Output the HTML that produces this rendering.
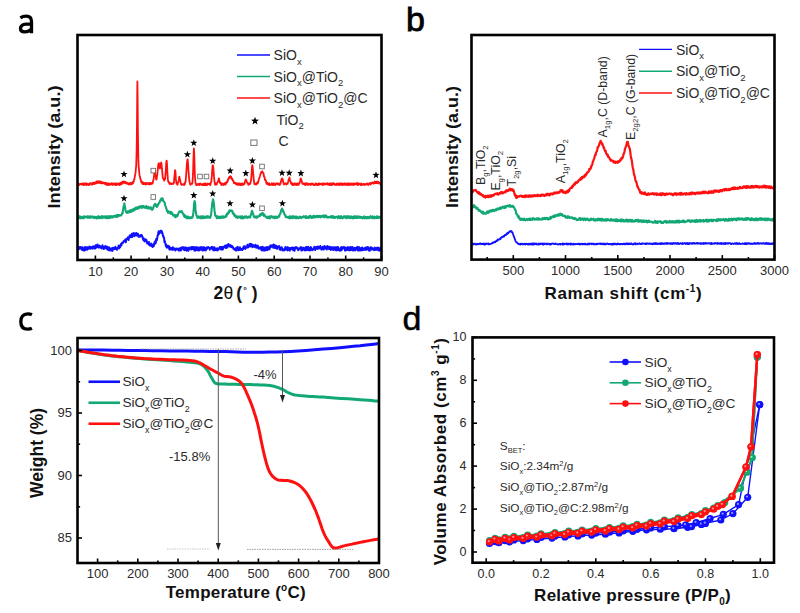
<!DOCTYPE html>
<html><head><meta charset="utf-8"><style>
html,body{margin:0;padding:0;background:#fff;width:800px;height:613px;overflow:hidden}
svg{display:block}
</style></head><body>
<svg width="800" height="613" viewBox="0 0 800 613">
<rect width="800" height="613" fill="#fff"/>
<defs>
<clipPath id="ca"><rect x="77.5" y="35" width="304.0" height="225"/></clipPath>
<clipPath id="cb"><rect x="471.5" y="35" width="303.0" height="224.60000000000002"/></clipPath>
<clipPath id="cc"><rect x="77.5" y="338" width="301.5" height="225"/></clipPath>
<clipPath id="cd"><rect x="472.5" y="337.4" width="301.5" height="225.30000000000007"/></clipPath>
</defs>
<g clip-path="url(#ca)">
<path d="M77.5 248.1 L77.9 247.5 L78.2 249.4 L78.6 247.2 L78.9 248.9 L79.3 248.3 L79.6 247.1 L80.0 248.8 L80.4 247.0 L80.7 248.5 L81.1 247.2 L81.4 247.2 L81.8 248.5 L82.1 250.0 L82.5 247.3 L82.9 247.7 L83.2 249.2 L83.6 250.5 L83.9 249.0 L84.3 248.3 L84.7 250.5 L85.0 247.0 L85.4 250.0 L85.7 247.9 L86.1 247.3 L86.4 247.2 L86.8 247.8 L87.2 249.7 L87.5 247.3 L87.9 248.8 L88.2 248.9 L88.6 247.9 L88.9 248.5 L89.3 246.6 L89.7 246.5 L90.0 247.0 L90.4 248.7 L90.7 247.7 L91.1 247.2 L91.4 248.1 L91.8 247.5 L92.2 246.8 L92.5 248.6 L92.9 248.1 L93.2 246.3 L93.6 247.5 L94.0 247.2 L94.3 248.4 L94.7 247.8 L95.0 246.0 L95.4 248.5 L95.7 245.2 L96.1 246.2 L96.5 247.5 L96.8 245.1 L97.2 246.3 L97.5 244.6 L97.9 247.0 L98.2 247.3 L98.6 246.6 L99.0 247.7 L99.3 245.6 L99.7 247.1 L100.0 246.8 L100.4 246.8 L100.7 246.3 L101.1 247.9 L101.5 248.4 L101.8 246.7 L102.2 247.5 L102.5 245.3 L102.9 247.8 L103.3 247.7 L103.6 249.1 L104.0 248.6 L104.3 246.7 L104.7 247.2 L105.0 248.4 L105.4 246.0 L105.8 247.8 L106.1 246.8 L106.5 246.7 L106.8 246.6 L107.2 249.4 L107.5 247.1 L107.9 247.6 L108.3 248.2 L108.6 250.2 L109.0 247.2 L109.3 248.7 L109.7 249.1 L110.0 250.5 L110.4 250.3 L110.8 250.5 L111.1 248.3 L111.5 248.8 L111.8 248.6 L112.2 250.6 L112.5 250.9 L112.9 247.8 L113.3 247.9 L113.6 248.0 L114.0 248.0 L114.3 248.9 L114.7 249.2 L115.1 247.9 L115.4 246.8 L115.8 248.2 L116.1 247.9 L116.5 248.5 L116.8 249.8 L117.2 248.7 L117.6 247.8 L117.9 248.0 L118.3 248.0 L118.6 245.4 L119.0 248.4 L119.3 247.7 L119.7 247.8 L120.1 247.2 L120.4 245.4 L120.8 245.2 L121.1 243.7 L121.5 245.5 L121.8 243.0 L122.2 242.7 L122.6 242.9 L122.9 242.4 L123.3 242.7 L123.6 241.3 L124.0 240.7 L124.4 240.9 L124.7 240.4 L125.1 241.0 L125.4 239.4 L125.8 242.3 L126.1 240.9 L126.5 238.8 L126.9 238.8 L127.2 238.8 L127.6 238.6 L127.9 237.3 L128.3 239.7 L128.6 239.9 L129.0 237.6 L129.4 237.4 L129.7 235.5 L130.1 235.3 L130.4 235.9 L130.8 235.4 L131.1 237.3 L131.5 234.5 L131.9 233.7 L132.2 237.1 L132.6 235.3 L132.9 233.6 L133.3 235.0 L133.7 232.9 L134.0 234.7 L134.4 236.3 L134.7 235.8 L135.1 235.1 L135.4 233.4 L135.8 234.1 L136.2 233.0 L136.5 235.4 L136.9 234.5 L137.2 235.5 L137.6 233.9 L137.9 233.6 L138.3 236.0 L138.7 236.8 L139.0 236.5 L139.4 236.5 L139.7 236.8 L140.1 236.7 L140.4 235.0 L140.8 236.3 L141.2 236.0 L141.5 235.0 L141.9 235.3 L142.2 236.6 L142.6 236.8 L142.9 238.7 L143.3 240.1 L143.7 238.5 L144.0 240.7 L144.4 241.2 L144.7 241.4 L145.1 239.5 L145.5 239.3 L145.8 239.6 L146.2 239.9 L146.5 240.2 L146.9 242.1 L147.2 243.5 L147.6 243.6 L148.0 242.5 L148.3 243.5 L148.7 244.4 L149.0 241.9 L149.4 244.4 L149.7 245.6 L150.1 245.3 L150.5 245.4 L150.8 244.6 L151.2 243.6 L151.5 246.1 L151.9 244.4 L152.2 246.2 L152.6 246.9 L153.0 244.6 L153.3 244.5 L153.7 246.3 L154.0 245.2 L154.4 242.6 L154.8 242.0 L155.1 241.4 L155.5 243.6 L155.8 242.4 L156.2 238.9 L156.5 240.5 L156.9 240.1 L157.3 237.8 L157.6 235.5 L158.0 235.2 L158.3 232.6 L158.7 231.3 L159.0 234.1 L159.4 232.2 L159.8 231.3 L160.1 232.6 L160.5 230.8 L160.8 232.4 L161.2 232.6 L161.5 230.8 L161.9 231.7 L162.3 232.8 L162.6 233.6 L163.0 236.0 L163.3 235.9 L163.7 237.7 L164.1 237.8 L164.4 241.9 L164.8 240.9 L165.1 242.4 L165.5 243.8 L165.8 245.9 L166.2 244.8 L166.6 247.4 L166.9 246.4 L167.3 247.0 L167.6 247.4 L168.0 245.8 L168.3 247.7 L168.7 246.9 L169.1 246.4 L169.4 249.5 L169.8 247.3 L170.1 248.5 L170.5 249.5 L170.8 248.9 L171.2 248.1 L171.6 248.8 L171.9 249.0 L172.3 249.9 L172.6 247.3 L173.0 249.0 L173.3 247.8 L173.7 247.9 L174.1 249.8 L174.4 248.8 L174.8 249.0 L175.1 249.8 L175.5 250.4 L175.9 248.6 L176.2 249.2 L176.6 248.8 L176.9 248.8 L177.3 249.5 L177.6 248.6 L178.0 248.9 L178.4 248.7 L178.7 250.5 L179.1 249.6 L179.4 250.2 L179.8 250.5 L180.1 247.9 L180.5 249.0 L180.9 250.5 L181.2 250.1 L181.6 247.4 L181.9 247.4 L182.3 248.6 L182.6 247.2 L183.0 247.8 L183.4 247.2 L183.7 249.4 L184.1 249.9 L184.4 250.3 L184.8 247.5 L185.2 249.6 L185.5 249.4 L185.9 247.4 L186.2 250.3 L186.6 250.6 L186.9 247.7 L187.3 250.5 L187.7 248.4 L188.0 248.8 L188.4 250.7 L188.7 250.1 L189.1 247.5 L189.4 248.5 L189.8 248.9 L190.2 248.2 L190.5 247.6 L190.9 248.1 L191.2 249.6 L191.6 247.0 L191.9 249.0 L192.3 248.6 L192.7 247.0 L193.0 248.2 L193.4 249.3 L193.7 248.8 L194.1 247.1 L194.5 250.6 L194.8 249.9 L195.2 250.6 L195.5 247.3 L195.9 247.9 L196.2 247.1 L196.6 249.9 L197.0 247.9 L197.3 247.4 L197.7 248.5 L198.0 250.4 L198.4 250.0 L198.7 247.9 L199.1 247.5 L199.5 250.4 L199.8 249.1 L200.2 249.6 L200.5 247.2 L200.9 247.1 L201.2 249.5 L201.6 248.5 L202.0 247.2 L202.3 250.5 L202.7 249.3 L203.0 249.9 L203.4 247.2 L203.7 250.2 L204.1 247.2 L204.5 250.2 L204.8 248.6 L205.2 248.2 L205.5 249.0 L205.9 250.4 L206.3 247.9 L206.6 247.4 L207.0 248.9 L207.3 247.8 L207.7 247.3 L208.0 247.5 L208.4 247.1 L208.8 247.7 L209.1 248.1 L209.5 248.1 L209.8 249.8 L210.2 248.0 L210.5 248.8 L210.9 247.6 L211.3 248.2 L211.6 247.0 L212.0 247.9 L212.3 247.0 L212.7 249.7 L213.0 249.0 L213.4 247.6 L213.8 248.7 L214.1 250.5 L214.5 247.3 L214.8 250.0 L215.2 248.5 L215.6 248.8 L215.9 250.1 L216.3 248.4 L216.6 248.8 L217.0 249.5 L217.3 250.6 L217.7 248.2 L218.1 250.1 L218.4 249.6 L218.8 249.3 L219.1 248.4 L219.5 248.2 L219.8 247.0 L220.2 247.3 L220.6 247.0 L220.9 249.5 L221.3 247.6 L221.6 247.2 L222.0 246.8 L222.3 249.6 L222.7 249.6 L223.1 248.6 L223.4 247.0 L223.8 246.7 L224.1 246.6 L224.5 247.1 L224.9 245.7 L225.2 246.5 L225.6 245.6 L225.9 248.1 L226.3 247.9 L226.6 246.2 L227.0 244.9 L227.4 247.6 L227.7 245.1 L228.1 245.3 L228.4 244.0 L228.8 245.6 L229.1 246.1 L229.5 246.3 L229.9 245.4 L230.2 246.8 L230.6 245.1 L230.9 246.3 L231.3 245.9 L231.6 247.3 L232.0 246.1 L232.4 246.2 L232.7 247.4 L233.1 247.3 L233.4 248.7 L233.8 248.6 L234.1 249.5 L234.5 249.2 L234.9 249.5 L235.2 250.1 L235.6 248.3 L235.9 248.1 L236.3 250.6 L236.7 247.4 L237.0 249.6 L237.4 249.3 L237.7 247.0 L238.1 250.0 L238.4 250.3 L238.8 249.2 L239.2 249.6 L239.5 249.9 L239.9 247.3 L240.2 248.8 L240.6 248.7 L240.9 249.9 L241.3 249.8 L241.7 249.8 L242.0 248.8 L242.4 250.0 L242.7 249.1 L243.1 249.1 L243.4 247.2 L243.8 246.4 L244.2 246.6 L244.5 247.4 L244.9 246.3 L245.2 248.9 L245.6 247.7 L246.0 247.8 L246.3 247.7 L246.7 247.7 L247.0 246.8 L247.4 244.8 L247.7 247.6 L248.1 247.3 L248.5 246.2 L248.8 246.1 L249.2 246.5 L249.5 244.1 L249.9 246.5 L250.2 244.5 L250.6 243.8 L251.0 244.5 L251.3 246.2 L251.7 244.2 L252.0 246.2 L252.4 247.2 L252.7 245.4 L253.1 245.0 L253.5 245.5 L253.8 246.4 L254.2 246.9 L254.5 246.4 L254.9 246.7 L255.3 244.7 L255.6 245.2 L256.0 245.7 L256.3 247.8 L256.7 246.3 L257.0 247.5 L257.4 245.5 L257.8 245.8 L258.1 246.8 L258.5 248.5 L258.8 248.7 L259.2 248.7 L259.5 247.4 L259.9 248.3 L260.3 248.2 L260.6 248.3 L261.0 247.0 L261.3 250.0 L261.7 247.4 L262.0 250.4 L262.4 250.3 L262.8 246.8 L263.1 248.5 L263.5 249.9 L263.8 250.5 L264.2 248.5 L264.5 247.8 L264.9 247.6 L265.3 250.4 L265.6 247.5 L266.0 248.9 L266.3 247.2 L266.7 248.6 L267.1 250.2 L267.4 247.0 L267.8 249.5 L268.1 248.2 L268.5 249.6 L268.8 248.8 L269.2 246.8 L269.6 249.2 L269.9 247.5 L270.3 245.6 L270.6 245.4 L271.0 247.1 L271.3 246.8 L271.7 246.1 L272.1 245.3 L272.4 246.0 L272.8 245.8 L273.1 247.7 L273.5 244.5 L273.8 247.3 L274.2 247.6 L274.6 244.9 L274.9 248.0 L275.3 247.2 L275.6 248.0 L276.0 245.8 L276.4 246.2 L276.7 246.4 L277.1 248.9 L277.4 247.5 L277.8 246.8 L278.1 247.2 L278.5 246.7 L278.9 246.0 L279.2 246.3 L279.6 249.3 L279.9 247.3 L280.3 249.9 L280.6 247.4 L281.0 247.5 L281.4 248.5 L281.7 247.3 L282.1 248.1 L282.4 250.4 L282.8 250.1 L283.1 249.9 L283.5 249.2 L283.9 250.3 L284.2 250.4 L284.6 248.9 L284.9 249.6 L285.3 247.1 L285.7 249.7 L286.0 248.6 L286.4 249.8 L286.7 249.3 L287.1 248.0 L287.4 247.1 L287.8 250.4 L288.2 247.4 L288.5 248.7 L288.9 248.2 L289.2 248.0 L289.6 249.7 L289.9 250.6 L290.3 247.9 L290.7 249.4 L291.0 248.0 L291.4 249.0 L291.7 248.4 L292.1 247.5 L292.4 247.5 L292.8 247.7 L293.2 250.3 L293.5 248.8 L293.9 247.7 L294.2 250.3 L294.6 250.7 L294.9 248.6 L295.3 247.4 L295.7 247.6 L296.0 247.2 L296.4 248.2 L296.7 247.2 L297.1 247.8 L297.5 247.9 L297.8 249.1 L298.2 250.3 L298.5 249.7 L298.9 248.5 L299.2 248.5 L299.6 248.9 L300.0 248.3 L300.3 248.2 L300.7 247.1 L301.0 247.9 L301.4 250.6 L301.7 247.4 L302.1 248.8 L302.5 249.3 L302.8 250.2 L303.2 247.7 L303.5 247.9 L303.9 247.8 L304.2 248.4 L304.6 248.6 L305.0 250.5 L305.3 250.1 L305.7 250.2 L306.0 246.9 L306.4 247.0 L306.8 249.5 L307.1 250.2 L307.5 248.6 L307.8 249.1 L308.2 246.8 L308.5 248.3 L308.9 250.3 L309.3 249.9 L309.6 250.0 L310.0 250.5 L310.3 247.7 L310.7 247.1 L311.0 247.3 L311.4 248.7 L311.8 249.3 L312.1 250.2 L312.5 249.4 L312.8 249.1 L313.2 249.5 L313.5 248.3 L313.9 248.6 L314.3 246.7 L314.6 249.5 L315.0 247.4 L315.3 249.9 L315.7 248.9 L316.1 247.5 L316.4 246.8 L316.8 247.3 L317.1 248.7 L317.5 248.9 L317.8 246.7 L318.2 246.5 L318.6 248.2 L318.9 248.4 L319.3 247.6 L319.6 246.9 L320.0 248.3 L320.3 246.1 L320.7 247.2 L321.1 247.7 L321.4 249.6 L321.8 248.4 L322.1 249.3 L322.5 247.7 L322.8 246.8 L323.2 246.9 L323.6 249.6 L323.9 248.6 L324.3 247.1 L324.6 246.0 L325.0 247.8 L325.3 248.5 L325.7 247.5 L326.1 246.9 L326.4 248.5 L326.8 249.5 L327.1 246.8 L327.5 246.1 L327.9 247.3 L328.2 247.6 L328.6 248.7 L328.9 246.8 L329.3 249.1 L329.6 249.0 L330.0 248.1 L330.4 247.0 L330.7 249.9 L331.1 247.4 L331.4 249.4 L331.8 247.2 L332.1 247.2 L332.5 249.3 L332.9 247.5 L333.2 250.1 L333.6 248.4 L333.9 247.2 L334.3 247.4 L334.6 248.1 L335.0 249.1 L335.4 250.2 L335.7 247.2 L336.1 248.1 L336.4 247.5 L336.8 250.4 L337.2 247.2 L337.5 246.9 L337.9 247.0 L338.2 248.2 L338.6 250.2 L338.9 250.1 L339.3 249.6 L339.7 250.6 L340.0 250.4 L340.4 248.1 L340.7 247.5 L341.1 250.4 L341.4 249.7 L341.8 247.0 L342.2 249.4 L342.5 248.3 L342.9 248.3 L343.2 248.1 L343.6 247.5 L343.9 246.9 L344.3 247.9 L344.7 248.2 L345.0 250.5 L345.4 247.4 L345.7 250.6 L346.1 247.7 L346.5 248.2 L346.8 250.0 L347.2 250.0 L347.5 248.5 L347.9 247.1 L348.2 248.7 L348.6 248.3 L349.0 250.4 L349.3 247.6 L349.7 248.3 L350.0 250.3 L350.4 247.0 L350.7 248.5 L351.1 250.0 L351.5 249.8 L351.8 247.1 L352.2 247.0 L352.5 247.1 L352.9 250.4 L353.2 247.9 L353.6 249.7 L354.0 250.3 L354.3 248.2 L354.7 247.9 L355.0 250.5 L355.4 249.2 L355.7 247.9 L356.1 249.6 L356.5 248.1 L356.8 247.9 L357.2 246.9 L357.5 249.8 L357.9 250.4 L358.3 249.3 L358.6 250.5 L359.0 247.0 L359.3 247.8 L359.7 248.7 L360.0 250.5 L360.4 250.5 L360.8 248.4 L361.1 247.9 L361.5 248.5 L361.8 248.8 L362.2 250.4 L362.5 247.6 L362.9 249.9 L363.3 249.7 L363.6 250.0 L364.0 249.8 L364.3 249.2 L364.7 248.1 L365.0 248.1 L365.4 248.3 L365.8 249.9 L366.1 247.2 L366.5 247.6 L366.8 249.8 L367.2 247.8 L367.6 247.1 L367.9 247.0 L368.3 249.0 L368.6 248.1 L369.0 250.6 L369.3 250.3 L369.7 250.7 L370.1 247.9 L370.4 247.2 L370.8 247.3 L371.1 248.8 L371.5 249.6 L371.8 248.6 L372.2 247.8 L372.6 248.5 L372.9 249.3 L373.3 249.5 L373.6 249.7 L374.0 250.1 L374.3 249.4 L374.7 247.4 L375.1 250.1 L375.4 248.0 L375.8 249.1 L376.1 248.3 L376.5 249.7 L376.9 247.7 L377.2 247.8 L377.6 247.8 L377.9 247.5 L378.3 250.3 L378.6 249.1 L379.0 248.1 L379.4 248.4 L379.7 250.7 L380.1 248.8 L380.4 247.8 L380.8 250.0 L381.1 249.4 L381.5 250.7" fill="none" stroke="#1010ff" stroke-width="2.0" stroke-linejoin="round" />
<path d="M77.5 216.4 L77.9 217.2 L78.2 218.0 L78.6 218.0 L78.9 218.2 L79.3 216.3 L79.6 216.8 L80.0 216.5 L80.4 216.6 L80.7 218.3 L81.1 217.5 L81.4 218.2 L81.8 217.0 L82.1 218.1 L82.5 217.2 L82.9 216.8 L83.2 217.9 L83.6 218.3 L83.9 216.4 L84.3 217.5 L84.7 217.6 L85.0 216.7 L85.4 217.0 L85.7 216.5 L86.1 216.6 L86.4 216.8 L86.8 217.5 L87.2 217.6 L87.5 216.6 L87.9 216.2 L88.2 216.9 L88.6 217.7 L88.9 216.6 L89.3 216.9 L89.7 216.6 L90.0 217.9 L90.4 217.4 L90.7 216.3 L91.1 216.4 L91.4 217.1 L91.8 217.4 L92.2 217.6 L92.5 216.4 L92.9 216.6 L93.2 217.7 L93.6 217.1 L94.0 216.8 L94.3 216.9 L94.7 218.3 L95.0 216.9 L95.4 217.4 L95.7 217.0 L96.1 217.1 L96.5 218.1 L96.8 218.4 L97.2 217.0 L97.5 216.6 L97.9 217.8 L98.2 216.6 L98.6 216.2 L99.0 218.2 L99.3 217.1 L99.7 218.0 L100.0 217.1 L100.4 218.1 L100.7 217.2 L101.1 216.5 L101.5 216.2 L101.8 217.4 L102.2 217.6 L102.5 218.1 L102.9 216.3 L103.3 217.5 L103.6 216.9 L104.0 217.2 L104.3 216.4 L104.7 216.7 L105.0 217.2 L105.4 218.1 L105.8 216.3 L106.1 217.1 L106.5 217.8 L106.8 218.2 L107.2 216.4 L107.5 216.3 L107.9 218.1 L108.3 218.1 L108.6 217.0 L109.0 216.0 L109.3 217.9 L109.7 216.7 L110.0 217.8 L110.4 217.2 L110.8 217.6 L111.1 216.1 L111.5 217.5 L111.8 216.2 L112.2 216.6 L112.5 217.5 L112.9 217.4 L113.3 216.0 L113.6 216.0 L114.0 216.3 L114.3 216.6 L114.7 216.2 L115.1 215.6 L115.4 215.8 L115.8 216.8 L116.1 217.1 L116.5 215.2 L116.8 216.2 L117.2 216.6 L117.6 214.9 L117.9 216.6 L118.3 215.0 L118.6 215.9 L119.0 215.7 L119.3 215.8 L119.7 215.0 L120.1 215.2 L120.4 215.4 L120.8 215.0 L121.1 215.4 L121.5 214.7 L121.8 214.5 L122.2 213.0 L122.6 213.2 L122.9 211.1 L123.3 208.1 L123.6 206.6 L124.0 204.9 L124.2 203.9 L124.4 203.4 L124.7 205.5 L125.1 207.1 L125.4 209.4 L125.8 211.6 L126.1 211.6 L126.5 212.6 L126.9 212.8 L127.2 211.6 L127.6 212.8 L127.9 211.4 L128.3 212.7 L128.6 212.6 L129.0 211.8 L129.4 210.7 L129.7 211.5 L130.1 211.0 L130.4 212.1 L130.8 210.1 L131.1 211.5 L131.5 211.7 L131.9 210.9 L132.2 210.9 L132.6 209.4 L132.9 210.9 L133.3 209.7 L133.7 210.5 L134.0 210.3 L134.4 208.5 L134.7 209.7 L135.1 209.8 L135.4 207.8 L135.8 208.3 L136.2 209.0 L136.5 207.6 L136.9 209.0 L137.2 207.5 L137.6 208.6 L137.9 207.0 L138.3 207.7 L138.7 208.5 L139.0 206.8 L139.4 206.8 L139.7 207.3 L140.1 206.8 L140.4 206.1 L140.8 206.4 L141.2 206.3 L141.5 207.9 L141.9 207.3 L142.2 207.7 L142.6 206.1 L142.9 207.4 L143.3 206.0 L143.7 206.8 L144.0 207.1 L144.4 206.5 L144.7 207.7 L145.1 207.0 L145.5 207.1 L145.8 207.8 L146.2 206.1 L146.5 208.1 L146.9 207.4 L147.2 207.0 L147.6 207.9 L148.0 206.8 L148.3 208.5 L148.7 207.7 L149.0 207.4 L149.4 208.4 L149.7 207.8 L150.1 207.3 L150.5 208.7 L150.8 207.3 L151.2 209.1 L151.5 208.0 L151.9 208.9 L152.2 209.8 L152.6 208.9 L153.0 208.9 L153.3 207.7 L153.7 206.3 L154.0 205.4 L154.4 204.6 L154.8 204.7 L155.1 203.9 L155.5 204.2 L155.8 205.7 L156.2 204.8 L156.5 205.6 L156.9 206.9 L157.3 205.5 L157.6 205.1 L158.0 205.3 L158.3 204.1 L158.7 203.8 L159.0 202.8 L159.4 202.7 L159.8 202.0 L160.1 200.4 L160.5 200.7 L160.8 199.8 L161.2 198.6 L161.5 200.1 L161.9 198.5 L162.3 198.9 L162.6 198.4 L163.0 200.0 L163.3 201.1 L163.7 201.7 L164.1 201.7 L164.4 202.3 L164.8 202.8 L165.1 205.2 L165.5 206.1 L165.8 206.7 L166.2 208.4 L166.6 209.0 L166.9 210.9 L167.3 211.3 L167.6 210.9 L168.0 212.8 L168.3 211.4 L168.7 212.7 L169.1 212.6 L169.4 212.3 L169.8 211.9 L170.1 213.4 L170.5 211.7 L170.8 212.9 L171.2 213.9 L171.6 212.3 L171.9 212.8 L172.3 214.0 L172.6 214.2 L173.0 214.9 L173.3 215.7 L173.7 214.7 L174.1 215.3 L174.4 215.6 L174.8 215.2 L175.1 217.2 L175.5 217.0 L175.9 216.8 L176.2 215.1 L176.6 216.8 L176.9 216.3 L177.3 215.4 L177.6 215.6 L178.0 214.4 L178.4 213.4 L178.7 212.5 L179.1 212.2 L179.4 211.3 L179.8 211.4 L180.1 212.0 L180.5 211.6 L180.9 211.9 L181.2 211.7 L181.6 211.0 L181.9 212.0 L182.3 212.2 L182.6 213.6 L183.0 213.6 L183.4 213.7 L183.7 215.1 L184.1 216.3 L184.4 215.1 L184.8 217.0 L185.2 215.4 L185.5 216.1 L185.9 216.3 L186.2 217.5 L186.6 218.1 L186.9 217.7 L187.3 216.8 L187.7 218.1 L188.0 216.9 L188.4 216.7 L188.7 218.2 L189.1 217.6 L189.4 217.7 L189.8 217.6 L190.2 218.3 L190.5 217.2 L190.9 218.0 L191.2 217.7 L191.6 218.1 L191.9 217.1 L192.3 217.6 L192.7 216.8 L193.0 215.0 L193.4 212.2 L193.7 209.3 L194.1 203.7 L194.5 202.0 L194.6 201.1 L194.8 201.4 L195.2 203.8 L195.5 209.9 L195.9 212.5 L196.2 214.6 L196.6 215.6 L197.0 216.1 L197.3 217.7 L197.7 217.6 L198.0 217.7 L198.4 217.8 L198.7 216.3 L199.1 217.5 L199.5 217.0 L199.8 218.0 L200.2 218.0 L200.5 218.2 L200.9 216.3 L201.2 218.1 L201.6 218.2 L202.0 218.3 L202.3 216.4 L202.7 216.7 L203.0 216.4 L203.4 216.3 L203.7 218.1 L204.1 218.0 L204.5 217.6 L204.8 218.0 L205.2 217.6 L205.5 216.8 L205.9 216.4 L206.3 216.4 L206.6 217.9 L207.0 216.7 L207.3 216.9 L207.7 217.1 L208.0 216.2 L208.4 216.8 L208.8 216.8 L209.1 217.8 L209.5 216.9 L209.8 216.7 L210.2 217.8 L210.5 216.2 L210.9 215.8 L211.3 213.2 L211.6 209.0 L212.0 206.3 L212.3 202.8 L212.7 200.9 L213.0 199.2 L213.4 200.7 L213.8 203.0 L214.1 205.9 L214.5 210.9 L214.8 212.1 L215.2 215.7 L215.6 215.5 L215.9 215.7 L216.3 216.5 L216.6 217.8 L217.0 218.3 L217.3 216.2 L217.7 217.3 L218.1 217.3 L218.4 218.0 L218.8 216.6 L219.1 217.3 L219.5 217.0 L219.8 218.0 L220.2 216.8 L220.6 218.3 L220.9 216.8 L221.3 216.7 L221.6 217.7 L222.0 217.3 L222.3 216.4 L222.7 217.6 L223.1 216.3 L223.4 217.8 L223.8 217.6 L224.1 217.7 L224.5 217.2 L224.9 216.5 L225.2 216.4 L225.6 216.1 L225.9 216.9 L226.3 214.8 L226.6 216.1 L227.0 213.7 L227.4 213.6 L227.7 213.1 L228.1 213.9 L228.4 212.5 L228.8 211.6 L229.1 212.2 L229.5 210.3 L229.9 210.5 L230.2 210.4 L230.6 210.9 L230.9 210.9 L231.3 210.9 L231.6 210.6 L232.0 211.0 L232.4 211.1 L232.7 213.2 L233.1 213.4 L233.4 214.2 L233.8 213.5 L234.1 214.6 L234.5 215.9 L234.9 215.9 L235.2 215.2 L235.6 216.3 L235.9 217.4 L236.3 216.2 L236.7 216.3 L237.0 216.6 L237.4 217.6 L237.7 217.9 L238.1 216.5 L238.4 216.5 L238.8 216.7 L239.2 216.9 L239.5 217.3 L239.9 216.5 L240.2 216.9 L240.6 216.6 L240.9 218.3 L241.3 217.8 L241.7 216.4 L242.0 218.3 L242.4 216.4 L242.7 217.0 L243.1 218.4 L243.4 217.9 L243.8 217.8 L244.2 217.2 L244.5 216.6 L244.9 217.6 L245.2 216.4 L245.6 216.7 L246.0 217.1 L246.3 216.3 L246.7 217.1 L247.0 217.9 L247.4 217.7 L247.7 217.3 L248.1 217.6 L248.5 217.2 L248.8 216.5 L249.2 217.5 L249.5 217.0 L249.9 217.5 L250.2 217.4 L250.6 215.6 L251.0 214.8 L251.3 213.9 L251.7 212.0 L252.0 210.8 L252.4 211.9 L252.7 213.0 L253.1 214.0 L253.5 215.1 L253.8 216.5 L254.2 216.9 L254.5 217.3 L254.9 217.0 L255.3 216.8 L255.6 217.5 L256.0 216.3 L256.3 217.0 L256.7 217.8 L257.0 217.5 L257.4 217.3 L257.8 216.3 L258.1 216.5 L258.5 216.3 L258.8 216.4 L259.2 215.7 L259.5 215.9 L259.9 216.1 L260.3 214.1 L260.6 214.8 L261.0 214.8 L261.3 213.7 L261.7 213.8 L262.0 214.8 L262.4 212.8 L262.8 214.1 L263.1 213.5 L263.5 215.1 L263.8 215.8 L264.2 215.2 L264.5 214.7 L264.9 216.0 L265.3 216.3 L265.6 216.9 L266.0 216.7 L266.3 217.1 L266.7 217.7 L267.1 217.1 L267.4 216.9 L267.8 218.2 L268.1 216.6 L268.5 217.7 L268.8 217.0 L269.2 217.9 L269.6 216.5 L269.9 218.4 L270.3 217.0 L270.6 216.3 L271.0 216.8 L271.3 217.1 L271.7 216.2 L272.1 217.1 L272.4 217.1 L272.8 217.7 L273.1 217.0 L273.5 216.8 L273.8 216.7 L274.2 217.8 L274.6 218.3 L274.9 217.4 L275.3 216.7 L275.6 218.0 L276.0 217.1 L276.4 216.7 L276.7 216.5 L277.1 217.8 L277.4 217.9 L277.8 217.4 L278.1 216.8 L278.5 216.8 L278.9 215.6 L279.2 216.7 L279.6 214.6 L279.9 214.3 L280.3 213.7 L280.6 212.6 L281.0 210.8 L281.4 209.6 L281.7 209.6 L282.1 208.5 L282.4 210.2 L282.8 209.7 L283.1 211.7 L283.5 211.4 L283.9 212.7 L284.2 213.5 L284.6 214.8 L284.9 215.0 L285.3 215.1 L285.7 217.1 L286.0 216.4 L286.4 216.5 L286.7 216.7 L287.1 217.2 L287.4 217.1 L287.8 217.6 L288.2 217.6 L288.5 217.0 L288.9 218.2 L289.2 218.1 L289.6 216.3 L289.9 218.0 L290.3 218.2 L290.7 217.9 L291.0 216.5 L291.4 218.0 L291.7 217.6 L292.1 216.2 L292.4 216.2 L292.8 218.3 L293.2 217.6 L293.5 216.7 L293.9 216.4 L294.2 216.5 L294.6 216.7 L294.9 217.9 L295.3 217.0 L295.7 216.5 L296.0 218.2 L296.4 217.9 L296.7 216.6 L297.1 218.2 L297.5 217.5 L297.8 217.9 L298.2 217.7 L298.5 218.2 L298.9 217.9 L299.2 218.0 L299.6 216.6 L300.0 217.7 L300.3 217.4 L300.7 217.8 L301.0 217.1 L301.4 218.1 L301.7 217.4 L302.1 216.7 L302.5 216.7 L302.8 216.5 L303.2 217.2 L303.5 216.3 L303.9 217.2 L304.2 216.4 L304.6 217.2 L305.0 217.2 L305.3 217.3 L305.7 218.0 L306.0 216.1 L306.4 217.9 L306.8 217.1 L307.1 217.3 L307.5 217.5 L307.8 217.9 L308.2 216.8 L308.5 216.9 L308.9 218.1 L309.3 216.1 L309.6 217.3 L310.0 217.3 L310.3 215.9 L310.7 217.2 L311.0 217.3 L311.4 217.8 L311.8 216.5 L312.1 217.9 L312.5 216.8 L312.8 216.7 L313.2 217.6 L313.5 215.7 L313.9 217.1 L314.3 216.9 L314.6 216.2 L315.0 217.4 L315.3 216.3 L315.7 216.5 L316.1 216.5 L316.4 217.1 L316.8 215.8 L317.1 216.3 L317.5 216.2 L317.8 216.5 L318.2 217.1 L318.6 215.9 L318.9 217.1 L319.3 216.1 L319.6 216.3 L320.0 215.8 L320.3 216.3 L320.7 217.3 L321.1 216.6 L321.4 216.9 L321.8 215.9 L322.1 215.9 L322.5 215.9 L322.8 216.5 L323.2 216.7 L323.6 217.0 L323.9 215.4 L324.3 216.9 L324.6 217.3 L325.0 216.6 L325.3 215.5 L325.7 216.1 L326.1 215.5 L326.4 215.9 L326.8 217.5 L327.1 216.9 L327.5 217.0 L327.9 217.3 L328.2 217.6 L328.6 217.0 L328.9 217.0 L329.3 217.1 L329.6 217.3 L330.0 217.1 L330.4 217.3 L330.7 216.3 L331.1 217.3 L331.4 216.9 L331.8 217.6 L332.1 216.1 L332.5 216.3 L332.9 216.0 L333.2 217.7 L333.6 218.0 L333.9 217.5 L334.3 216.8 L334.6 217.9 L335.0 217.8 L335.4 217.3 L335.7 216.7 L336.1 216.8 L336.4 217.0 L336.8 216.8 L337.2 217.1 L337.5 217.5 L337.9 218.2 L338.2 216.3 L338.6 217.4 L338.9 216.2 L339.3 216.4 L339.7 218.0 L340.0 217.4 L340.4 218.2 L340.7 217.2 L341.1 216.2 L341.4 217.0 L341.8 217.5 L342.2 218.3 L342.5 218.3 L342.9 217.2 L343.2 217.1 L343.6 216.4 L343.9 217.6 L344.3 216.7 L344.7 216.5 L345.0 216.2 L345.4 216.2 L345.7 217.7 L346.1 216.5 L346.5 218.3 L346.8 216.4 L347.2 218.1 L347.5 216.5 L347.9 216.2 L348.2 217.8 L348.6 216.7 L349.0 217.8 L349.3 216.6 L349.7 216.3 L350.0 217.9 L350.4 217.8 L350.7 218.1 L351.1 217.8 L351.5 216.4 L351.8 217.6 L352.2 217.8 L352.5 217.2 L352.9 218.3 L353.2 216.8 L353.6 218.3 L354.0 217.8 L354.3 216.2 L354.7 216.2 L355.0 217.6 L355.4 218.0 L355.7 216.4 L356.1 216.9 L356.5 217.8 L356.8 216.6 L357.2 218.1 L357.5 217.3 L357.9 216.3 L358.3 217.0 L358.6 217.5 L359.0 217.2 L359.3 217.7 L359.7 216.5 L360.0 218.0 L360.4 217.0 L360.8 217.6 L361.1 217.6 L361.5 217.1 L361.8 217.0 L362.2 217.9 L362.5 218.3 L362.9 217.9 L363.3 217.4 L363.6 216.8 L364.0 216.3 L364.3 218.3 L364.7 217.7 L365.0 218.0 L365.4 216.9 L365.8 217.5 L366.1 218.4 L366.5 218.0 L366.8 217.5 L367.2 216.9 L367.6 217.1 L367.9 218.2 L368.3 217.0 L368.6 217.7 L369.0 217.5 L369.3 218.2 L369.7 218.0 L370.1 216.8 L370.4 216.2 L370.8 216.8 L371.1 217.1 L371.5 217.5 L371.8 218.0 L372.2 218.2 L372.6 216.3 L372.9 218.0 L373.3 218.0 L373.6 218.1 L374.0 217.5 L374.3 216.8 L374.7 218.1 L375.1 218.0 L375.4 217.7 L375.8 218.2 L376.1 217.0 L376.5 216.4 L376.9 217.4 L377.2 218.0 L377.6 216.6 L377.9 217.9 L378.3 218.2 L378.6 216.7 L379.0 217.5 L379.4 217.7 L379.7 217.2 L380.1 216.7 L380.4 216.8 L380.8 217.9 L381.1 217.9 L381.5 217.2" fill="none" stroke="#12a874" stroke-width="2.1" stroke-linejoin="round" />
<path d="M77.5 183.4 L77.8 184.8 L78.1 184.7 L78.4 183.7 L78.6 184.4 L78.9 185.0 L79.2 185.0 L79.5 184.2 L79.8 184.1 L80.1 184.4 L80.4 183.6 L80.6 183.6 L80.9 183.6 L81.2 184.6 L81.5 183.9 L81.8 184.3 L82.1 184.0 L82.4 184.2 L82.7 183.5 L82.9 183.3 L83.2 185.2 L83.5 183.9 L83.8 183.4 L84.1 184.5 L84.4 184.8 L84.7 183.5 L84.9 184.4 L85.2 183.9 L85.5 184.2 L85.8 183.2 L86.1 183.3 L86.4 185.2 L86.7 184.9 L86.9 184.2 L87.2 184.3 L87.5 183.7 L87.8 184.7 L88.1 184.0 L88.4 185.0 L88.7 184.7 L88.9 184.8 L89.2 185.0 L89.5 183.6 L89.8 183.2 L90.1 183.5 L90.4 183.4 L90.7 183.2 L90.9 183.1 L91.2 184.0 L91.5 184.6 L91.8 183.7 L92.1 184.7 L92.4 184.5 L92.7 182.8 L93.0 183.8 L93.2 183.3 L93.5 182.6 L93.8 184.2 L94.1 182.7 L94.4 183.2 L94.7 183.3 L95.0 183.8 L95.2 183.1 L95.5 182.5 L95.8 182.5 L96.1 181.8 L96.4 183.3 L96.7 183.3 L97.0 181.7 L97.2 181.2 L97.5 181.6 L97.8 181.7 L98.1 182.8 L98.4 182.8 L98.7 182.7 L99.0 181.1 L99.2 182.6 L99.5 182.5 L99.8 182.4 L100.1 183.1 L100.4 181.4 L100.7 181.6 L101.0 182.9 L101.2 183.4 L101.5 183.0 L101.8 182.3 L102.1 183.0 L102.4 183.4 L102.7 182.2 L103.0 182.8 L103.3 182.8 L103.5 182.6 L103.8 183.4 L104.1 182.8 L104.4 183.1 L104.7 183.0 L105.0 184.1 L105.3 182.8 L105.5 184.3 L105.8 183.3 L106.1 183.0 L106.4 184.8 L106.7 183.5 L107.0 184.9 L107.3 184.8 L107.5 184.9 L107.8 183.4 L108.1 184.0 L108.4 183.3 L108.7 185.0 L109.0 184.8 L109.3 184.4 L109.5 184.1 L109.8 183.8 L110.1 184.8 L110.4 184.1 L110.7 184.4 L111.0 183.5 L111.3 183.6 L111.5 183.3 L111.8 184.6 L112.1 184.3 L112.4 183.5 L112.7 184.9 L113.0 183.7 L113.3 184.0 L113.6 183.5 L113.8 183.7 L114.1 184.8 L114.4 183.8 L114.7 183.5 L115.0 184.1 L115.3 183.8 L115.6 185.0 L115.8 183.4 L116.1 185.1 L116.4 183.3 L116.7 185.0 L117.0 184.5 L117.3 183.6 L117.6 184.1 L117.8 183.7 L118.1 183.7 L118.4 183.5 L118.7 183.9 L119.0 185.1 L119.3 185.1 L119.6 184.9 L119.8 183.2 L120.1 183.5 L120.4 184.7 L120.7 182.9 L121.0 184.1 L121.3 183.1 L121.6 184.3 L121.8 182.2 L122.1 183.6 L122.4 182.4 L122.7 181.9 L123.0 181.4 L123.3 182.9 L123.6 182.2 L123.9 181.5 L124.1 182.0 L124.4 183.0 L124.7 181.7 L125.0 182.5 L125.3 181.8 L125.6 182.1 L125.9 183.4 L126.1 183.5 L126.4 182.7 L126.7 182.6 L127.0 182.7 L127.3 183.9 L127.6 183.7 L127.9 183.4 L128.1 183.3 L128.4 184.1 L128.7 184.3 L129.0 184.5 L129.3 184.1 L129.6 183.3 L129.9 183.0 L130.1 184.3 L130.4 183.6 L130.7 184.2 L131.0 182.8 L131.3 184.3 L131.6 183.2 L131.9 184.1 L132.1 184.0 L132.4 183.1 L132.7 181.8 L133.0 183.3 L133.3 181.9 L133.6 182.1 L133.9 180.2 L134.2 179.2 L134.4 179.5 L134.7 177.3 L135.0 175.4 L135.3 174.1 L135.6 172.4 L135.9 168.5 L136.2 165.6 L136.4 159.2 L136.7 147.6 L137.0 122.7 L137.3 86.8 L137.4 81.4 L137.6 95.6 L137.9 130.8 L138.2 151.7 L138.4 160.9 L138.7 167.2 L139.0 169.3 L139.3 173.5 L139.6 175.7 L139.9 176.5 L140.2 177.9 L140.4 179.1 L140.7 180.1 L141.0 179.9 L141.3 182.5 L141.6 181.5 L141.9 181.9 L142.2 182.1 L142.4 182.6 L142.7 184.0 L143.0 182.5 L143.3 182.8 L143.6 184.1 L143.9 183.1 L144.2 182.8 L144.5 184.0 L144.7 184.0 L145.0 183.9 L145.3 184.3 L145.6 183.1 L145.9 184.7 L146.2 184.4 L146.5 183.0 L146.7 183.2 L147.0 183.9 L147.3 183.9 L147.6 183.5 L147.9 183.1 L148.2 183.7 L148.5 183.1 L148.7 184.0 L149.0 184.5 L149.3 183.0 L149.6 183.8 L149.9 184.1 L150.2 182.9 L150.5 184.2 L150.7 184.3 L151.0 183.1 L151.3 183.1 L151.6 183.8 L151.9 183.1 L152.2 182.7 L152.5 183.6 L152.7 183.0 L153.0 181.7 L153.3 180.6 L153.6 179.2 L153.9 177.0 L154.2 175.1 L154.5 172.1 L154.8 170.6 L155.0 171.7 L155.3 173.9 L155.6 174.9 L155.9 177.7 L156.2 179.6 L156.5 179.5 L156.8 177.4 L157.0 176.2 L157.3 174.4 L157.6 171.1 L157.9 168.5 L158.2 165.0 L158.5 163.9 L158.7 163.5 L158.8 163.2 L159.0 163.3 L159.3 166.4 L159.6 167.4 L159.9 168.4 L160.2 167.4 L160.5 166.2 L160.8 164.6 L161.0 163.0 L161.2 162.5 L161.3 163.3 L161.6 164.8 L161.9 168.7 L162.2 171.2 L162.5 174.6 L162.8 177.5 L163.0 178.2 L163.3 178.3 L163.6 179.3 L163.9 179.4 L164.2 180.7 L164.5 179.4 L164.8 179.3 L165.1 179.1 L165.3 175.9 L165.6 173.1 L165.9 168.8 L166.2 163.2 L166.5 160.6 L166.6 160.6 L166.8 161.9 L167.1 165.4 L167.3 170.9 L167.6 175.8 L167.9 179.4 L168.2 181.5 L168.5 182.1 L168.8 182.4 L169.1 182.2 L169.3 183.3 L169.6 184.0 L169.9 183.6 L170.2 183.7 L170.5 183.9 L170.8 183.1 L171.1 184.2 L171.3 183.7 L171.6 183.9 L171.9 184.1 L172.2 183.9 L172.5 183.6 L172.8 183.5 L173.1 183.4 L173.3 183.9 L173.6 183.3 L173.9 182.6 L174.2 179.1 L174.5 176.1 L174.8 173.2 L175.1 170.1 L175.1 170.2 L175.4 171.0 L175.6 174.0 L175.9 179.4 L176.2 181.1 L176.5 183.7 L176.8 183.2 L177.1 183.2 L177.4 184.9 L177.6 183.9 L177.9 182.7 L178.2 182.6 L178.5 181.4 L178.8 180.2 L179.1 177.3 L179.4 176.7 L179.6 178.5 L179.9 179.4 L180.2 180.0 L180.5 181.9 L180.8 183.0 L181.1 184.2 L181.4 184.3 L181.6 184.9 L181.9 184.8 L182.2 184.2 L182.5 184.7 L182.8 184.7 L183.1 184.7 L183.4 184.1 L183.6 184.8 L183.9 184.6 L184.2 185.0 L184.5 183.3 L184.8 184.5 L185.1 182.2 L185.4 182.7 L185.7 180.6 L185.9 177.7 L186.2 174.8 L186.5 169.6 L186.8 164.8 L187.1 161.9 L187.4 159.6 L187.5 159.3 L187.7 159.6 L187.9 162.0 L188.2 166.0 L188.5 171.1 L188.8 174.5 L189.1 178.2 L189.4 181.0 L189.7 182.3 L189.9 183.0 L190.2 184.4 L190.5 184.8 L190.8 184.1 L191.1 184.1 L191.4 183.6 L191.7 183.8 L191.9 183.3 L192.2 183.7 L192.5 182.2 L192.8 177.2 L193.1 171.4 L193.4 160.0 L193.7 152.0 L193.9 148.4 L193.9 148.5 L194.2 152.6 L194.5 162.9 L194.8 173.6 L195.1 178.3 L195.4 181.6 L195.7 183.9 L196.0 184.1 L196.2 185.0 L196.5 184.7 L196.8 184.3 L197.1 185.2 L197.4 184.2 L197.7 184.2 L198.0 184.6 L198.2 184.0 L198.5 183.9 L198.8 184.4 L199.1 183.9 L199.4 185.1 L199.7 184.5 L200.0 184.2 L200.2 183.4 L200.5 183.9 L200.8 184.0 L201.1 184.3 L201.4 184.3 L201.7 185.0 L202.0 185.1 L202.2 184.2 L202.5 184.1 L202.8 184.4 L203.1 185.2 L203.4 183.9 L203.7 184.3 L204.0 184.8 L204.3 183.5 L204.5 183.8 L204.8 185.2 L205.1 184.8 L205.4 184.2 L205.7 183.4 L206.0 185.0 L206.3 184.6 L206.5 184.8 L206.8 185.2 L207.1 185.0 L207.4 184.0 L207.7 183.5 L208.0 183.8 L208.3 184.2 L208.5 184.2 L208.8 183.6 L209.1 183.6 L209.4 184.5 L209.7 184.4 L210.0 183.9 L210.3 185.1 L210.5 184.2 L210.8 182.5 L211.1 182.2 L211.4 181.2 L211.7 177.3 L212.0 174.3 L212.3 168.9 L212.5 166.3 L212.8 165.4 L212.9 165.2 L213.1 166.4 L213.4 168.4 L213.7 172.9 L214.0 176.9 L214.3 179.5 L214.6 182.3 L214.8 183.3 L215.1 184.8 L215.4 184.2 L215.7 184.0 L216.0 183.4 L216.3 183.5 L216.6 184.6 L216.8 183.1 L217.1 182.8 L217.4 182.3 L217.7 182.2 L218.0 181.7 L218.3 180.3 L218.6 180.0 L218.8 178.3 L219.1 178.7 L219.4 181.1 L219.7 181.3 L220.0 183.0 L220.3 183.0 L220.6 183.1 L220.8 183.5 L221.1 183.3 L221.4 185.0 L221.7 184.4 L222.0 183.9 L222.3 184.1 L222.6 184.0 L222.8 183.3 L223.1 184.9 L223.4 184.3 L223.7 185.0 L224.0 184.0 L224.3 184.3 L224.6 183.5 L224.9 183.0 L225.1 184.6 L225.4 184.3 L225.7 183.0 L226.0 183.9 L226.3 183.4 L226.6 182.0 L226.9 182.2 L227.1 182.4 L227.4 181.0 L227.7 181.3 L228.0 179.3 L228.3 179.0 L228.6 179.0 L228.9 177.5 L229.1 177.2 L229.4 177.9 L229.7 176.9 L230.0 177.3 L230.3 176.2 L230.6 176.1 L230.9 176.7 L231.1 176.7 L231.4 178.8 L231.7 177.9 L232.0 179.0 L232.3 178.7 L232.6 180.2 L232.9 180.5 L233.1 181.1 L233.4 180.9 L233.7 181.5 L234.0 183.3 L234.3 182.7 L234.6 182.7 L234.9 182.9 L235.2 183.2 L235.4 183.3 L235.7 183.0 L236.0 184.3 L236.3 183.7 L236.6 183.4 L236.9 184.5 L237.2 183.3 L237.4 183.7 L237.7 184.9 L238.0 183.4 L238.3 184.1 L238.6 184.9 L238.9 184.8 L239.2 183.5 L239.4 183.9 L239.7 184.6 L240.0 184.0 L240.3 185.1 L240.6 183.6 L240.9 185.1 L241.2 184.2 L241.4 183.7 L241.7 184.1 L242.0 183.5 L242.3 184.6 L242.6 183.7 L242.9 185.0 L243.2 184.4 L243.4 183.9 L243.7 183.6 L244.0 184.2 L244.3 183.1 L244.6 183.9 L244.9 181.6 L245.2 181.4 L245.5 180.6 L245.7 179.4 L246.0 180.3 L246.3 179.9 L246.6 181.2 L246.9 182.0 L247.2 182.4 L247.5 183.2 L247.7 183.0 L248.0 183.4 L248.3 184.8 L248.6 183.8 L248.9 184.5 L249.2 183.4 L249.5 184.3 L249.7 183.9 L250.0 184.1 L250.3 183.4 L250.6 182.2 L250.9 181.2 L251.2 178.5 L251.5 174.6 L251.7 171.5 L252.0 166.8 L252.3 165.2 L252.4 165.4 L252.6 166.5 L252.9 169.7 L253.2 173.9 L253.5 176.6 L253.7 180.0 L254.0 181.5 L254.3 183.8 L254.6 184.3 L254.9 183.8 L255.2 183.9 L255.5 184.4 L255.8 184.4 L256.0 183.4 L256.3 184.5 L256.6 183.4 L256.9 183.8 L257.2 182.6 L257.5 182.1 L257.8 183.3 L258.0 182.5 L258.3 181.8 L258.6 179.8 L258.9 179.0 L259.2 178.4 L259.5 177.5 L259.8 176.7 L260.0 175.9 L260.3 174.2 L260.6 173.8 L260.9 173.6 L261.2 172.0 L261.5 172.8 L261.8 171.9 L262.0 171.8 L262.3 171.3 L262.6 172.0 L262.9 173.0 L263.2 173.1 L263.5 173.2 L263.8 175.8 L264.0 176.7 L264.3 176.7 L264.6 177.2 L264.9 179.8 L265.2 180.1 L265.5 179.8 L265.8 180.9 L266.1 181.2 L266.3 183.1 L266.6 182.3 L266.9 184.1 L267.2 184.0 L267.5 182.9 L267.8 184.2 L268.1 183.7 L268.3 184.5 L268.6 184.7 L268.9 183.7 L269.2 183.3 L269.5 185.1 L269.8 184.0 L270.1 185.0 L270.3 184.6 L270.6 184.7 L270.9 184.9 L271.2 184.5 L271.5 184.1 L271.8 183.3 L272.1 184.6 L272.3 184.1 L272.6 184.2 L272.9 185.1 L273.2 183.5 L273.5 184.7 L273.8 183.3 L274.1 184.6 L274.3 184.8 L274.6 183.7 L274.9 184.3 L275.2 185.1 L275.5 184.5 L275.8 184.3 L276.1 183.7 L276.4 183.3 L276.6 183.9 L276.9 184.0 L277.2 183.6 L277.5 183.8 L277.8 183.5 L278.1 184.6 L278.4 184.5 L278.6 183.7 L278.9 183.7 L279.2 184.2 L279.5 184.1 L279.8 185.0 L280.1 183.6 L280.4 183.2 L280.6 183.7 L280.9 181.3 L281.2 180.9 L281.5 179.2 L281.8 179.2 L282.1 178.3 L282.4 179.1 L282.6 178.9 L282.9 181.1 L283.2 182.2 L283.5 182.9 L283.8 184.1 L284.1 184.6 L284.4 183.3 L284.6 183.7 L284.9 183.9 L285.2 183.6 L285.5 183.3 L285.8 183.8 L286.1 183.6 L286.4 184.6 L286.7 184.1 L286.9 183.4 L287.2 183.7 L287.5 183.8 L287.8 183.1 L288.1 182.0 L288.4 180.7 L288.7 179.3 L288.9 180.1 L289.2 178.8 L289.5 177.4 L289.8 179.3 L290.1 181.0 L290.4 181.4 L290.7 181.6 L290.9 183.2 L291.2 183.6 L291.5 183.4 L291.8 184.2 L292.1 183.2 L292.4 185.0 L292.7 184.5 L292.9 184.5 L293.2 185.1 L293.5 184.5 L293.8 183.7 L294.1 183.7 L294.4 183.5 L294.7 183.3 L294.9 184.7 L295.2 184.9 L295.5 183.8 L295.8 183.6 L296.1 184.5 L296.4 184.9 L296.7 185.1 L297.0 183.5 L297.2 184.8 L297.5 184.9 L297.8 184.7 L298.1 183.8 L298.4 183.5 L298.7 184.8 L299.0 183.6 L299.2 183.5 L299.5 183.3 L299.8 182.2 L300.1 182.0 L300.4 179.7 L300.7 178.3 L301.0 178.9 L301.2 179.1 L301.5 180.3 L301.8 181.2 L302.1 182.7 L302.4 183.8 L302.7 183.5 L303.0 183.9 L303.2 183.4 L303.5 183.8 L303.8 184.3 L304.1 183.4 L304.4 184.6 L304.7 183.5 L305.0 184.1 L305.2 185.1 L305.5 183.4 L305.8 183.3 L306.1 184.1 L306.4 183.6 L306.7 184.6 L307.0 183.2 L307.3 184.9 L307.5 184.9 L307.8 184.8 L308.1 184.1 L308.4 183.8 L308.7 184.5 L309.0 184.2 L309.3 184.0 L309.5 183.9 L309.8 184.1 L310.1 184.5 L310.4 184.9 L310.7 185.0 L311.0 183.5 L311.3 183.8 L311.5 184.1 L311.8 184.3 L312.1 183.9 L312.4 183.6 L312.7 183.4 L313.0 183.8 L313.3 184.1 L313.5 185.1 L313.8 185.0 L314.1 184.9 L314.4 185.1 L314.7 185.1 L315.0 184.4 L315.3 184.8 L315.5 183.3 L315.8 184.6 L316.1 184.4 L316.4 183.8 L316.7 184.3 L317.0 185.1 L317.3 184.2 L317.6 184.5 L317.8 183.8 L318.1 183.9 L318.4 185.0 L318.7 183.3 L319.0 183.6 L319.3 184.6 L319.6 184.1 L319.8 183.4 L320.1 184.5 L320.4 183.9 L320.7 184.4 L321.0 184.0 L321.3 184.3 L321.6 184.3 L321.8 184.0 L322.1 183.4 L322.4 183.6 L322.7 185.0 L323.0 184.3 L323.3 183.4 L323.6 184.9 L323.8 183.7 L324.1 183.4 L324.4 184.3 L324.7 183.7 L325.0 184.2 L325.3 184.3 L325.6 183.7 L325.9 184.3 L326.1 183.4 L326.4 184.2 L326.7 184.4 L327.0 183.4 L327.3 184.0 L327.6 183.3 L327.9 184.1 L328.1 184.9 L328.4 184.3 L328.7 184.6 L329.0 184.7 L329.3 183.4 L329.6 185.2 L329.9 184.6 L330.1 183.4 L330.4 184.9 L330.7 184.0 L331.0 183.5 L331.3 185.1 L331.6 184.3 L331.9 184.7 L332.1 183.5 L332.4 184.8 L332.7 183.3 L333.0 183.7 L333.3 183.9 L333.6 183.2 L333.9 184.4 L334.1 183.6 L334.4 183.8 L334.7 184.6 L335.0 184.1 L335.3 185.0 L335.6 184.4 L335.9 184.9 L336.2 184.3 L336.4 185.0 L336.7 184.9 L337.0 183.5 L337.3 184.7 L337.6 183.9 L337.9 184.7 L338.2 184.6 L338.4 184.9 L338.7 183.4 L339.0 183.9 L339.3 184.7 L339.6 185.1 L339.9 184.6 L340.2 183.3 L340.4 184.4 L340.7 183.4 L341.0 184.3 L341.3 184.8 L341.6 183.4 L341.9 185.1 L342.2 184.6 L342.4 183.7 L342.7 183.6 L343.0 184.1 L343.3 184.9 L343.6 184.4 L343.9 183.4 L344.2 183.2 L344.4 183.4 L344.7 184.8 L345.0 183.6 L345.3 184.3 L345.6 183.8 L345.9 184.6 L346.2 184.0 L346.5 183.5 L346.7 185.0 L347.0 184.3 L347.3 184.6 L347.6 184.8 L347.9 185.1 L348.2 183.2 L348.5 183.9 L348.7 183.5 L349.0 184.2 L349.3 184.9 L349.6 184.8 L349.9 183.3 L350.2 183.6 L350.5 184.8 L350.7 184.6 L351.0 184.0 L351.3 184.2 L351.6 183.5 L351.9 184.9 L352.2 184.0 L352.5 184.9 L352.7 184.4 L353.0 183.4 L353.3 183.9 L353.6 183.6 L353.9 185.0 L354.2 184.4 L354.5 183.3 L354.7 183.5 L355.0 183.9 L355.3 184.1 L355.6 184.4 L355.9 184.0 L356.2 183.9 L356.5 183.2 L356.8 184.4 L357.0 183.9 L357.3 183.2 L357.6 184.1 L357.9 185.2 L358.2 183.3 L358.5 183.5 L358.8 184.5 L359.0 183.7 L359.3 183.7 L359.6 184.2 L359.9 183.7 L360.2 184.3 L360.5 184.3 L360.8 185.1 L361.0 185.2 L361.3 183.3 L361.6 184.3 L361.9 184.7 L362.2 184.9 L362.5 184.7 L362.8 184.5 L363.0 184.5 L363.3 183.9 L363.6 183.8 L363.9 184.8 L364.2 184.9 L364.5 185.1 L364.8 184.6 L365.0 183.8 L365.3 184.7 L365.6 184.7 L365.9 184.2 L366.2 184.5 L366.5 183.9 L366.8 184.3 L367.1 184.0 L367.3 183.3 L367.6 183.8 L367.9 183.8 L368.2 185.1 L368.5 184.1 L368.8 183.8 L369.1 183.6 L369.3 183.5 L369.6 183.7 L369.9 183.2 L370.2 182.9 L370.5 184.6 L370.8 183.7 L371.1 183.6 L371.3 183.7 L371.6 183.1 L371.9 182.7 L372.2 182.4 L372.5 182.8 L372.8 182.7 L373.1 183.4 L373.3 182.9 L373.6 183.6 L373.9 182.3 L374.2 183.3 L374.5 182.6 L374.8 181.5 L375.1 181.6 L375.3 182.4 L375.6 183.2 L375.9 181.9 L376.2 182.8 L376.5 182.1 L376.8 183.1 L377.1 181.5 L377.4 182.4 L377.6 183.4 L377.9 182.2 L378.2 182.3 L378.5 182.0 L378.8 182.4 L379.1 182.7 L379.4 183.7 L379.6 182.8 L379.9 183.3 L380.2 183.0 L380.5 183.9 L380.8 184.5 L381.1 184.1 L381.4 183.3" fill="none" stroke="#ff1010" stroke-width="1.8" stroke-linejoin="round" />
</g>
<rect x="77.5" y="35" width="304.0" height="225" fill="none" stroke="#000" stroke-width="2.6"/>
<line x1="95.4" y1="260" x2="95.4" y2="255.5" stroke="#000" stroke-width="1.6"/>
<text x="95.4" y="275.6" font-size="13" text-anchor="middle" font-weight="normal" fill="#2a2a2a" font-family="Liberation Sans, sans-serif" >10</text>
<line x1="113.3" y1="260" x2="113.3" y2="257.4" stroke="#000" stroke-width="1.6"/>
<line x1="131.1" y1="260" x2="131.1" y2="255.5" stroke="#000" stroke-width="1.6"/>
<text x="131.1" y="275.6" font-size="13" text-anchor="middle" font-weight="normal" fill="#2a2a2a" font-family="Liberation Sans, sans-serif" >20</text>
<line x1="149.0" y1="260" x2="149.0" y2="257.4" stroke="#000" stroke-width="1.6"/>
<line x1="166.9" y1="260" x2="166.9" y2="255.5" stroke="#000" stroke-width="1.6"/>
<text x="166.9" y="275.6" font-size="13" text-anchor="middle" font-weight="normal" fill="#2a2a2a" font-family="Liberation Sans, sans-serif" >30</text>
<line x1="184.8" y1="260" x2="184.8" y2="257.4" stroke="#000" stroke-width="1.6"/>
<line x1="202.7" y1="260" x2="202.7" y2="255.5" stroke="#000" stroke-width="1.6"/>
<text x="202.7" y="275.6" font-size="13" text-anchor="middle" font-weight="normal" fill="#2a2a2a" font-family="Liberation Sans, sans-serif" >40</text>
<line x1="220.6" y1="260" x2="220.6" y2="257.4" stroke="#000" stroke-width="1.6"/>
<line x1="238.4" y1="260" x2="238.4" y2="255.5" stroke="#000" stroke-width="1.6"/>
<text x="238.4" y="275.6" font-size="13" text-anchor="middle" font-weight="normal" fill="#2a2a2a" font-family="Liberation Sans, sans-serif" >50</text>
<line x1="256.3" y1="260" x2="256.3" y2="257.4" stroke="#000" stroke-width="1.6"/>
<line x1="274.2" y1="260" x2="274.2" y2="255.5" stroke="#000" stroke-width="1.6"/>
<text x="274.2" y="275.6" font-size="13" text-anchor="middle" font-weight="normal" fill="#2a2a2a" font-family="Liberation Sans, sans-serif" >60</text>
<line x1="292.1" y1="260" x2="292.1" y2="257.4" stroke="#000" stroke-width="1.6"/>
<line x1="310.0" y1="260" x2="310.0" y2="255.5" stroke="#000" stroke-width="1.6"/>
<text x="310.0" y="275.6" font-size="13" text-anchor="middle" font-weight="normal" fill="#2a2a2a" font-family="Liberation Sans, sans-serif" >70</text>
<line x1="327.9" y1="260" x2="327.9" y2="257.4" stroke="#000" stroke-width="1.6"/>
<line x1="345.7" y1="260" x2="345.7" y2="255.5" stroke="#000" stroke-width="1.6"/>
<text x="345.7" y="275.6" font-size="13" text-anchor="middle" font-weight="normal" fill="#2a2a2a" font-family="Liberation Sans, sans-serif" >80</text>
<line x1="363.6" y1="260" x2="363.6" y2="257.4" stroke="#000" stroke-width="1.6"/>
<line x1="381.5" y1="260" x2="381.5" y2="255.5" stroke="#000" stroke-width="1.6"/>
<text x="381.5" y="275.6" font-size="13" text-anchor="middle" font-weight="normal" fill="#2a2a2a" font-family="Liberation Sans, sans-serif" >90</text>
<polygon points="124.0,170.4 124.9,172.9 127.6,173.0 125.5,174.7 126.2,177.3 124.0,175.8 121.8,177.3 122.5,174.7 120.4,173.0 123.1,172.9" fill="#000"/>
<polygon points="187.4,150.7 188.3,153.2 191.0,153.3 188.9,155.0 189.6,157.6 187.4,156.1 185.2,157.6 185.9,155.0 183.8,153.3 186.5,153.2" fill="#000"/>
<polygon points="193.8,139.2 194.7,141.7 197.4,141.8 195.3,143.5 196.0,146.1 193.8,144.6 191.6,146.1 192.3,143.5 190.2,141.8 192.9,141.7" fill="#000"/>
<polygon points="212.7,157.2 213.6,159.7 216.3,159.8 214.2,161.5 214.9,164.1 212.7,162.6 210.5,164.1 211.2,161.5 209.1,159.8 211.8,159.7" fill="#000"/>
<polygon points="230.2,167.0 231.1,169.5 233.8,169.6 231.7,171.3 232.4,173.9 230.2,172.4 228.0,173.9 228.7,171.3 226.6,169.6 229.3,169.5" fill="#000"/>
<polygon points="245.8,169.5 246.7,172.0 249.4,172.1 247.3,173.8 248.0,176.4 245.8,174.9 243.6,176.4 244.3,173.8 242.2,172.1 244.9,172.0" fill="#000"/>
<polygon points="252.4,157.0 253.3,159.5 256.0,159.6 253.9,161.3 254.6,163.9 252.4,162.4 250.2,163.9 250.9,161.3 248.8,159.6 251.5,159.5" fill="#000"/>
<polygon points="282.0,169.2 282.9,171.7 285.6,171.8 283.5,173.5 284.2,176.1 282.0,174.6 279.8,176.1 280.5,173.5 278.4,171.8 281.1,171.7" fill="#000"/>
<polygon points="289.2,169.2 290.1,171.7 292.8,171.8 290.7,173.5 291.4,176.1 289.2,174.6 287.0,176.1 287.7,173.5 285.6,171.8 288.3,171.7" fill="#000"/>
<polygon points="300.9,169.5 301.8,172.0 304.5,172.1 302.4,173.8 303.1,176.4 300.9,174.9 298.7,176.4 299.4,173.8 297.3,172.1 300.0,172.0" fill="#000"/>
<polygon points="376.0,171.3 376.9,173.8 379.6,173.9 377.5,175.6 378.2,178.2 376.0,176.7 373.8,178.2 374.5,175.6 372.4,173.9 375.1,173.8" fill="#000"/>
<polygon points="124.0,194.7 124.9,197.2 127.6,197.3 125.5,199.0 126.2,201.6 124.0,200.1 121.8,201.6 122.5,199.0 120.4,197.3 123.1,197.2" fill="#000"/>
<polygon points="193.8,191.5 194.7,194.0 197.4,194.1 195.3,195.8 196.0,198.4 193.8,196.9 191.6,198.4 192.3,195.8 190.2,194.1 192.9,194.0" fill="#000"/>
<polygon points="212.7,189.9 213.6,192.4 216.3,192.5 214.2,194.2 214.9,196.8 212.7,195.3 210.5,196.8 211.2,194.2 209.1,192.5 211.8,192.4" fill="#000"/>
<polygon points="230.0,199.7 230.9,202.2 233.6,202.3 231.5,204.0 232.2,206.6 230.0,205.1 227.8,206.6 228.5,204.0 226.4,202.3 229.1,202.2" fill="#000"/>
<polygon points="252.4,200.9 253.3,203.4 256.0,203.5 253.9,205.2 254.6,207.8 252.4,206.3 250.2,207.8 250.9,205.2 248.8,203.5 251.5,203.4" fill="#000"/>
<polygon points="282.4,199.7 283.3,202.2 286.0,202.3 283.9,204.0 284.6,206.6 282.4,205.1 280.2,206.6 280.9,204.0 278.8,202.3 281.5,202.2" fill="#000"/>
<rect x="151.0" y="168.3" width="4.6" height="4.6" fill="#fff" stroke="#666" stroke-width="0.85"/>
<rect x="197.7" y="174.2" width="4.6" height="4.6" fill="#fff" stroke="#666" stroke-width="0.85"/>
<rect x="204.2" y="174.2" width="4.6" height="4.6" fill="#fff" stroke="#666" stroke-width="0.85"/>
<rect x="259.7" y="164.2" width="4.6" height="4.6" fill="#fff" stroke="#666" stroke-width="0.85"/>
<rect x="151.0" y="194.7" width="4.6" height="4.6" fill="#fff" stroke="#666" stroke-width="0.85"/>
<rect x="259.7" y="206.0" width="4.6" height="4.6" fill="#fff" stroke="#666" stroke-width="0.85"/>
<line x1="237" y1="55.0" x2="270" y2="55.0" stroke="#1010ff" stroke-width="1.4"/>
<text x="273.6" y="60.2" font-size="14" text-anchor="start" font-weight="normal" fill="#2a2a2a" font-family="Liberation Sans, sans-serif" >SiO<tspan font-size="9.5" dy="4.6">x</tspan></text>
<line x1="237" y1="76.5" x2="270" y2="76.5" stroke="#12a874" stroke-width="1.4"/>
<text x="273.6" y="81.7" font-size="14" text-anchor="start" font-weight="normal" fill="#2a2a2a" font-family="Liberation Sans, sans-serif" >SiO<tspan font-size="9.5" dy="4.6">x</tspan><tspan dy="-4.6">@TiO</tspan><tspan font-size="9.5" dy="4.6">2</tspan></text>
<line x1="237" y1="98.0" x2="270" y2="98.0" stroke="#ff1010" stroke-width="1.4"/>
<text x="273.6" y="103.2" font-size="14" text-anchor="start" font-weight="normal" fill="#2a2a2a" font-family="Liberation Sans, sans-serif" >SiO<tspan font-size="9.5" dy="4.6">x</tspan><tspan dy="-4.6">@TiO</tspan><tspan font-size="9.5" dy="4.6">2</tspan><tspan dy="-4.6">@C</tspan></text>
<polygon points="255.0,116.8 256.0,119.6 259.0,119.7 256.7,121.5 257.5,124.4 255.0,122.8 252.5,124.4 253.3,121.5 251.0,119.7 254.0,119.6" fill="#000"/>
<text x="276.4" y="124.5" font-size="14" text-anchor="start" font-weight="normal" fill="#2a2a2a" font-family="Liberation Sans, sans-serif" >TiO<tspan font-size="9.5" dy="4.6">2</tspan></text>
<rect x="250.8" y="140" width="6.2" height="5.4" fill="#fff" stroke="#777" stroke-width="1"/>
<text x="278.6" y="145.6" font-size="14" text-anchor="start" font-weight="normal" fill="#2a2a2a" font-family="Liberation Sans, sans-serif" >C</text>
<path d="M20.4 17.8 C22.3 16.5 24.4 16.2 26.3 16.2 C29.8 16.2 31.5 17.8 31.5 21.6 L31.5 33.3 M31.5 23.9 C28.8 23.9 25.4 23.9 23.6 24.5 C21.3 25.3 20.5 26.7 20.5 28.5 C20.5 30.9 22.2 31.9 24.5 31.9 C27.5 31.9 30.4 30.4 31.5 28.4" fill="none" stroke="#000" stroke-width="3.3"/>
<text x="59.8" y="147.0" font-size="17" text-anchor="middle" font-weight="bold" fill="#111" font-family="Liberation Sans, sans-serif" transform="rotate(-90 59.8 147)" textLength="123" lengthAdjust="spacingAndGlyphs">Intensity (a.u.)</text>
<text x="235.5" y="298.5" font-size="17.5" text-anchor="middle" font-weight="bold" fill="#111" font-family="Liberation Sans, sans-serif" >2<tspan font-weight="normal" dx="0.5">θ</tspan><tspan dx="3">(</tspan><tspan font-size="9" dy="-6" dx="1">°</tspan><tspan dy="6" dx="5">)</tspan></text>
<g clip-path="url(#cb)">
<path d="M471.5 244.3 L471.9 244.6 L472.3 244.1 L472.8 243.5 L473.2 244.4 L473.6 244.5 L474.0 243.8 L474.4 243.6 L474.8 243.6 L475.3 244.0 L475.7 244.5 L476.1 244.2 L476.5 244.5 L476.9 243.7 L477.4 243.8 L477.8 244.3 L478.2 244.2 L478.6 243.9 L479.0 244.2 L479.4 243.8 L479.9 243.5 L480.3 243.9 L480.7 243.5 L481.1 244.2 L481.5 243.8 L481.9 244.0 L482.4 244.1 L482.8 243.7 L483.2 244.0 L483.6 243.4 L484.0 244.5 L484.5 244.1 L484.9 244.6 L485.3 243.5 L485.7 244.1 L486.1 244.3 L486.5 243.8 L487.0 243.5 L487.4 243.6 L487.8 243.6 L488.2 244.3 L488.6 243.5 L489.1 244.4 L489.5 243.9 L489.9 244.0 L490.3 244.0 L490.7 243.8 L491.1 243.8 L491.6 243.5 L492.0 243.0 L492.4 243.3 L492.8 242.5 L493.2 242.9 L493.7 242.7 L494.1 242.5 L494.5 241.8 L494.9 242.1 L495.3 242.2 L495.7 241.3 L496.2 240.8 L496.6 240.9 L497.0 241.1 L497.4 239.9 L497.8 239.5 L498.2 239.8 L498.7 239.8 L499.1 239.6 L499.5 238.9 L499.9 239.4 L500.3 238.2 L500.8 238.6 L501.2 237.5 L501.6 237.2 L502.0 237.1 L502.4 236.7 L502.8 237.0 L503.3 236.7 L503.7 236.0 L504.1 236.6 L504.5 235.6 L504.9 235.0 L505.4 234.7 L505.8 235.0 L506.2 234.9 L506.6 233.7 L507.0 233.2 L507.4 233.8 L507.9 232.8 L508.3 233.3 L508.7 232.4 L509.1 232.2 L509.5 231.4 L509.9 231.6 L510.4 231.0 L510.8 230.9 L511.2 231.7 L511.6 231.2 L512.0 232.4 L512.5 232.3 L512.9 233.9 L513.3 234.6 L513.7 236.4 L514.1 236.7 L514.5 238.4 L515.0 239.3 L515.4 240.8 L515.8 241.7 L516.2 242.0 L516.6 242.2 L517.1 242.8 L517.5 243.3 L517.9 243.8 L518.3 243.7 L518.7 243.6 L519.1 244.3 L519.6 244.2 L520.0 243.8 L520.4 244.6 L520.8 243.7 L521.2 244.1 L521.7 243.6 L522.1 244.4 L522.5 244.4 L522.9 243.7 L523.3 244.3 L523.7 244.4 L524.2 243.7 L524.6 243.8 L525.0 244.0 L525.4 244.5 L525.8 243.6 L526.2 244.2 L526.7 244.1 L527.1 243.9 L527.5 244.1 L527.9 244.5 L528.3 243.7 L528.8 244.5 L529.2 243.8 L529.6 244.3 L530.0 244.4 L530.4 243.6 L530.8 244.4 L531.3 244.6 L531.7 243.8 L532.1 243.4 L532.5 243.5 L532.9 244.6 L533.4 243.4 L533.8 244.5 L534.2 243.6 L534.6 244.3 L535.0 243.5 L535.4 243.6 L535.9 244.2 L536.3 243.5 L536.7 243.8 L537.1 244.5 L537.5 244.3 L538.0 244.5 L538.4 244.6 L538.8 243.4 L539.2 243.7 L539.6 244.4 L540.0 244.2 L540.5 243.4 L540.9 244.0 L541.3 243.7 L541.7 243.9 L542.1 243.5 L542.5 243.4 L543.0 244.6 L543.4 243.8 L543.8 244.5 L544.2 243.5 L544.6 244.0 L545.1 243.6 L545.5 243.9 L545.9 243.6 L546.3 244.2 L546.7 243.6 L547.1 244.3 L547.6 244.0 L548.0 243.5 L548.4 243.8 L548.8 244.0 L549.2 244.5 L549.7 243.8 L550.1 243.7 L550.5 244.6 L550.9 244.5 L551.3 244.3 L551.7 243.7 L552.2 243.6 L552.6 243.7 L553.0 243.5 L553.4 243.5 L553.8 244.0 L554.3 243.9 L554.7 244.1 L555.1 243.8 L555.5 243.4 L555.9 244.2 L556.3 244.2 L556.8 244.1 L557.2 244.1 L557.6 244.2 L558.0 244.6 L558.4 244.4 L558.8 244.3 L559.3 243.9 L559.7 243.8 L560.1 243.9 L560.5 244.6 L560.9 243.9 L561.4 243.9 L561.8 243.9 L562.2 243.6 L562.6 244.6 L563.0 243.4 L563.4 244.1 L563.9 244.5 L564.3 243.7 L564.7 244.1 L565.1 243.9 L565.5 243.7 L566.0 243.6 L566.4 243.5 L566.8 244.4 L567.2 244.3 L567.6 244.5 L568.0 243.5 L568.5 244.2 L568.9 243.8 L569.3 244.2 L569.7 244.1 L570.1 243.8 L570.5 244.6 L571.0 243.4 L571.4 244.3 L571.8 244.4 L572.2 244.0 L572.6 244.1 L573.1 244.6 L573.5 243.7 L573.9 244.2 L574.3 244.3 L574.7 243.9 L575.1 244.3 L575.6 243.9 L576.0 244.0 L576.4 244.1 L576.8 244.2 L577.2 243.8 L577.7 244.2 L578.1 244.1 L578.5 243.7 L578.9 244.1 L579.3 243.7 L579.7 244.5 L580.2 244.0 L580.6 244.3 L581.0 244.0 L581.4 244.0 L581.8 243.7 L582.3 243.6 L582.7 244.5 L583.1 244.0 L583.5 244.0 L583.9 244.0 L584.3 244.4 L584.8 243.7 L585.2 243.6 L585.6 244.4 L586.0 244.0 L586.4 244.2 L586.8 244.4 L587.3 244.5 L587.7 244.4 L588.1 243.5 L588.5 243.9 L588.9 244.4 L589.4 244.4 L589.8 243.5 L590.2 243.6 L590.6 243.7 L591.0 243.5 L591.4 243.8 L591.9 244.4 L592.3 244.0 L592.7 243.9 L593.1 243.5 L593.5 243.9 L594.0 244.6 L594.4 244.2 L594.8 243.9 L595.2 244.0 L595.6 244.4 L596.0 244.3 L596.5 243.6 L596.9 244.2 L597.3 243.8 L597.7 244.0 L598.1 243.7 L598.6 243.8 L599.0 243.8 L599.4 243.9 L599.8 243.4 L600.2 243.6 L600.6 244.1 L601.1 243.5 L601.5 243.6 L601.9 244.3 L602.3 243.7 L602.7 243.8 L603.1 243.7 L603.6 244.4 L604.0 243.5 L604.4 244.2 L604.8 244.4 L605.2 243.6 L605.7 243.9 L606.1 244.4 L606.5 244.1 L606.9 243.8 L607.3 243.5 L607.7 243.9 L608.2 243.8 L608.6 244.3 L609.0 243.8 L609.4 243.9 L609.8 244.2 L610.3 244.4 L610.7 243.8 L611.1 243.9 L611.5 244.1 L611.9 244.5 L612.3 243.6 L612.8 244.6 L613.2 244.3 L613.6 243.8 L614.0 244.2 L614.4 243.8 L614.9 243.5 L615.3 244.3 L615.7 243.9 L616.1 244.0 L616.5 244.0 L616.9 244.5 L617.4 244.3 L617.8 243.4 L618.2 244.1 L618.6 243.9 L619.0 243.9 L619.4 244.4 L619.9 243.9 L620.3 243.9 L620.7 244.4 L621.1 243.9 L621.5 244.0 L622.0 244.0 L622.4 244.3 L622.8 244.2 L623.2 244.2 L623.6 243.8 L624.0 243.4 L624.5 244.2 L624.9 244.0 L625.3 244.3 L625.7 244.2 L626.1 243.5 L626.6 243.6 L627.0 243.4 L627.4 244.3 L627.8 243.4 L628.2 243.4 L628.6 244.2 L629.1 244.0 L629.5 243.4 L629.9 244.1 L630.3 244.1 L630.7 243.9 L631.1 243.3 L631.6 244.1 L632.0 243.8 L632.4 244.0 L632.8 244.5 L633.2 244.2 L633.7 244.3 L634.1 243.4 L634.5 243.6 L634.9 243.9 L635.3 243.2 L635.7 244.4 L636.2 243.6 L636.6 243.5 L637.0 243.6 L637.4 243.5 L637.8 244.2 L638.3 243.9 L638.7 243.8 L639.1 243.7 L639.5 243.3 L639.9 243.6 L640.3 244.2 L640.8 244.1 L641.2 244.2 L641.6 243.5 L642.0 243.4 L642.4 243.2 L642.9 243.8 L643.3 243.6 L643.7 243.7 L644.1 243.7 L644.5 243.8 L644.9 243.6 L645.4 244.1 L645.8 243.4 L646.2 244.2 L646.6 243.8 L647.0 243.2 L647.4 243.5 L647.9 243.8 L648.3 243.6 L648.7 243.8 L649.1 243.5 L649.5 243.4 L650.0 244.0 L650.4 243.4 L650.8 243.9 L651.2 244.0 L651.6 243.8 L652.0 243.6 L652.5 244.2 L652.9 243.6 L653.3 244.1 L653.7 243.1 L654.1 243.6 L654.6 243.8 L655.0 243.1 L655.4 244.1 L655.8 243.1 L656.2 243.7 L656.6 243.2 L657.1 244.1 L657.5 243.7 L657.9 244.0 L658.3 243.6 L658.7 243.8 L659.2 243.8 L659.6 243.4 L660.0 243.2 L660.4 244.0 L660.8 243.2 L661.2 244.1 L661.7 243.2 L662.1 243.1 L662.5 243.1 L662.9 243.9 L663.3 244.1 L663.7 243.5 L664.2 243.7 L664.6 243.3 L665.0 244.0 L665.4 243.8 L665.8 243.1 L666.3 243.0 L666.7 243.8 L667.1 243.0 L667.5 243.9 L667.9 243.3 L668.3 243.2 L668.8 243.6 L669.2 243.3 L669.6 243.6 L670.0 243.1 L670.4 244.0 L670.9 243.3 L671.3 243.9 L671.7 243.1 L672.1 243.9 L672.5 244.1 L672.9 243.4 L673.4 242.9 L673.8 243.4 L674.2 243.7 L674.6 243.2 L675.0 243.6 L675.5 243.0 L675.9 243.5 L676.3 243.8 L676.7 243.4 L677.1 243.7 L677.5 243.0 L678.0 243.9 L678.4 243.0 L678.8 244.0 L679.2 244.1 L679.6 244.0 L680.0 243.5 L680.5 243.2 L680.9 243.3 L681.3 243.8 L681.7 243.5 L682.1 244.0 L682.6 243.0 L683.0 243.5 L683.4 243.9 L683.8 243.6 L684.2 243.5 L684.6 243.0 L685.1 243.1 L685.5 243.2 L685.9 244.0 L686.3 243.9 L686.7 243.2 L687.2 244.0 L687.6 242.9 L688.0 243.6 L688.4 244.1 L688.8 243.3 L689.2 244.0 L689.7 243.7 L690.1 243.0 L690.5 243.3 L690.9 243.4 L691.3 243.2 L691.7 243.8 L692.2 243.1 L692.6 243.8 L693.0 243.3 L693.4 243.0 L693.8 243.6 L694.3 243.0 L694.7 243.6 L695.1 243.8 L695.5 243.6 L695.9 243.5 L696.3 242.9 L696.8 243.5 L697.2 243.0 L697.6 243.7 L698.0 243.1 L698.4 243.6 L698.9 243.3 L699.3 243.3 L699.7 243.7 L700.1 243.1 L700.5 243.1 L700.9 244.0 L701.4 243.3 L701.8 243.9 L702.2 243.9 L702.6 243.5 L703.0 243.1 L703.5 243.0 L703.9 244.0 L704.3 243.0 L704.7 243.5 L705.1 243.5 L705.5 243.0 L706.0 243.5 L706.4 243.1 L706.8 243.5 L707.2 243.5 L707.6 243.3 L708.0 243.1 L708.5 243.4 L708.9 243.1 L709.3 243.1 L709.7 243.2 L710.1 243.9 L710.6 243.5 L711.0 244.0 L711.4 242.9 L711.8 244.0 L712.2 243.5 L712.6 243.8 L713.1 243.6 L713.5 243.7 L713.9 243.2 L714.3 243.8 L714.7 243.1 L715.2 243.2 L715.6 242.9 L716.0 243.4 L716.4 243.5 L716.8 243.3 L717.2 244.0 L717.7 243.0 L718.1 243.6 L718.5 243.2 L718.9 243.6 L719.3 243.8 L719.8 243.8 L720.2 243.0 L720.6 243.2 L721.0 243.6 L721.4 244.1 L721.8 242.9 L722.3 243.6 L722.7 243.7 L723.1 243.9 L723.5 243.3 L723.9 243.9 L724.3 243.5 L724.8 244.0 L725.2 242.9 L725.6 244.0 L726.0 243.4 L726.4 243.4 L726.9 243.0 L727.3 243.2 L727.7 243.8 L728.1 243.7 L728.5 243.1 L728.9 243.3 L729.4 243.1 L729.8 243.1 L730.2 243.2 L730.6 243.3 L731.0 244.1 L731.5 244.1 L731.9 243.8 L732.3 243.5 L732.7 243.5 L733.1 243.8 L733.5 244.0 L734.0 243.8 L734.4 243.7 L734.8 243.1 L735.2 243.7 L735.6 243.9 L736.1 243.8 L736.5 243.0 L736.9 243.8 L737.3 243.3 L737.7 243.1 L738.1 244.1 L738.6 243.7 L739.0 243.8 L739.4 243.1 L739.8 243.9 L740.2 244.0 L740.6 244.0 L741.1 243.8 L741.5 243.9 L741.9 243.9 L742.3 243.6 L742.7 243.4 L743.2 243.9 L743.6 243.8 L744.0 243.9 L744.4 243.3 L744.8 244.1 L745.2 243.5 L745.7 244.0 L746.1 243.0 L746.5 244.1 L746.9 243.8 L747.3 243.2 L747.8 243.9 L748.2 243.2 L748.6 243.1 L749.0 243.4 L749.4 243.2 L749.8 243.5 L750.3 244.0 L750.7 243.7 L751.1 243.8 L751.5 243.4 L751.9 243.8 L752.3 243.9 L752.8 243.7 L753.2 244.0 L753.6 243.9 L754.0 243.4 L754.4 243.0 L754.9 243.7 L755.3 243.9 L755.7 243.3 L756.1 243.6 L756.5 243.9 L756.9 243.9 L757.4 242.9 L757.8 243.5 L758.2 242.9 L758.6 243.0 L759.0 243.9 L759.5 243.4 L759.9 243.6 L760.3 243.4 L760.7 243.3 L761.1 243.2 L761.5 243.3 L762.0 243.9 L762.4 243.6 L762.8 243.3 L763.2 243.0 L763.6 243.2 L764.1 243.7 L764.5 243.4 L764.9 243.7 L765.3 243.9 L765.7 243.0 L766.1 243.7 L766.6 242.9 L767.0 243.9 L767.4 243.1 L767.8 243.2 L768.2 244.0 L768.6 243.3 L769.1 243.2 L769.5 244.0 L769.9 243.6 L770.3 244.0 L770.7 243.4 L771.2 243.5 L771.6 244.0 L772.0 243.5 L772.4 244.1 L772.8 243.1 L773.2 243.9 L773.7 243.1 L774.1 243.5 L774.5 242.9" fill="none" stroke="#1010ff" stroke-width="1.8" stroke-linejoin="round" />
<path d="M471.5 207.1 L471.9 208.4 L472.3 207.1 L472.8 207.4 L473.2 205.9 L473.6 205.8 L474.0 205.2 L474.4 206.1 L474.8 207.0 L475.3 206.6 L475.7 206.8 L476.1 208.3 L476.5 208.6 L476.9 208.5 L477.4 207.8 L477.8 209.2 L478.2 209.3 L478.6 210.7 L479.0 209.8 L479.4 210.7 L479.9 210.9 L480.3 210.6 L480.7 211.2 L481.1 211.8 L481.5 212.5 L481.9 211.9 L482.4 211.9 L482.8 213.4 L483.2 211.8 L483.6 213.6 L484.0 213.5 L484.5 213.3 L484.9 213.2 L485.3 213.7 L485.7 213.8 L486.1 213.4 L486.5 213.2 L487.0 211.7 L487.4 212.1 L487.8 211.5 L488.2 213.0 L488.6 212.7 L489.1 211.1 L489.5 211.8 L489.9 211.6 L490.3 210.4 L490.7 210.9 L491.1 211.5 L491.6 211.1 L492.0 210.2 L492.4 211.0 L492.8 210.0 L493.2 210.3 L493.7 210.0 L494.1 211.0 L494.5 210.2 L494.9 210.4 L495.3 210.0 L495.7 209.3 L496.2 210.3 L496.6 209.7 L497.0 209.6 L497.4 208.6 L497.8 208.3 L498.2 209.0 L498.7 209.4 L499.1 209.2 L499.5 208.2 L499.9 207.6 L500.3 208.3 L500.8 208.9 L501.2 207.3 L501.6 208.3 L502.0 207.1 L502.4 207.2 L502.8 206.6 L503.3 207.0 L503.7 207.0 L504.1 208.1 L504.5 208.0 L504.9 206.3 L505.4 206.4 L505.8 207.6 L506.2 206.0 L506.6 206.1 L507.0 206.2 L507.4 205.5 L507.9 205.6 L508.3 205.8 L508.7 205.7 L509.1 206.7 L509.5 205.2 L509.9 205.1 L510.4 206.5 L510.8 205.7 L511.2 206.5 L511.6 206.3 L512.0 206.7 L512.5 206.0 L512.9 205.8 L513.3 207.1 L513.7 206.8 L514.1 207.5 L514.5 208.4 L515.0 209.5 L515.4 209.8 L515.8 211.2 L516.2 213.6 L516.6 213.9 L517.1 214.3 L517.5 215.8 L517.9 215.7 L518.3 217.2 L518.7 216.3 L519.1 218.4 L519.6 218.3 L520.0 218.4 L520.4 219.9 L520.8 218.8 L521.2 218.9 L521.7 218.6 L522.1 219.5 L522.5 219.9 L522.9 219.8 L523.3 219.2 L523.7 220.0 L524.2 218.6 L524.6 219.0 L525.0 219.6 L525.4 220.3 L525.8 219.6 L526.2 219.7 L526.7 219.8 L527.1 219.1 L527.5 220.1 L527.9 219.7 L528.3 218.9 L528.8 219.0 L529.2 219.8 L529.6 218.9 L530.0 218.5 L530.4 219.9 L530.8 219.2 L531.3 219.2 L531.7 219.4 L532.1 219.9 L532.5 218.3 L532.9 218.7 L533.4 218.2 L533.8 218.8 L534.2 219.0 L534.6 219.7 L535.0 219.3 L535.4 219.1 L535.9 218.8 L536.3 219.1 L536.7 218.5 L537.1 219.6 L537.5 219.5 L538.0 219.6 L538.4 218.2 L538.8 219.2 L539.2 219.3 L539.6 218.8 L540.0 219.6 L540.5 219.6 L540.9 219.3 L541.3 219.4 L541.7 219.1 L542.1 219.5 L542.5 218.0 L543.0 219.1 L543.4 219.1 L543.8 218.9 L544.2 218.2 L544.6 217.8 L545.1 218.9 L545.5 219.3 L545.9 218.2 L546.3 218.0 L546.7 218.0 L547.1 217.8 L547.6 218.9 L548.0 219.5 L548.4 219.2 L548.8 218.3 L549.2 218.9 L549.7 217.6 L550.1 219.0 L550.5 217.8 L550.9 217.0 L551.3 218.1 L551.7 216.9 L552.2 217.0 L552.6 216.3 L553.0 216.9 L553.4 216.9 L553.8 217.2 L554.3 215.5 L554.7 216.9 L555.1 215.3 L555.5 215.3 L555.9 216.0 L556.3 215.3 L556.8 215.2 L557.2 215.5 L557.6 214.7 L558.0 215.7 L558.4 214.5 L558.8 215.6 L559.3 215.4 L559.7 214.8 L560.1 213.7 L560.5 215.2 L560.9 213.8 L561.4 214.9 L561.8 214.9 L562.2 214.3 L562.6 215.6 L563.0 216.0 L563.4 215.9 L563.9 215.7 L564.3 216.0 L564.7 216.4 L565.1 215.8 L565.5 217.2 L566.0 217.6 L566.4 217.3 L566.8 217.7 L567.2 216.6 L567.6 218.0 L568.0 216.2 L568.5 217.2 L568.9 216.6 L569.3 217.3 L569.7 217.9 L570.1 218.0 L570.5 217.6 L571.0 217.5 L571.4 217.3 L571.8 217.8 L572.2 217.7 L572.6 217.6 L573.1 218.8 L573.5 218.4 L573.9 218.4 L574.3 218.0 L574.7 219.1 L575.1 218.2 L575.6 218.4 L576.0 219.1 L576.4 219.4 L576.8 220.0 L577.2 219.5 L577.7 219.9 L578.1 219.9 L578.5 219.5 L578.9 219.5 L579.3 218.2 L579.7 218.5 L580.2 218.2 L580.6 219.9 L581.0 219.6 L581.4 219.4 L581.8 218.7 L582.3 218.9 L582.7 218.5 L583.1 219.5 L583.5 220.2 L583.9 218.9 L584.3 218.4 L584.8 218.6 L585.2 219.0 L585.6 220.1 L586.0 219.9 L586.4 219.2 L586.8 218.6 L587.3 218.6 L587.7 218.7 L588.1 219.9 L588.5 219.3 L588.9 220.4 L589.4 220.3 L589.8 220.0 L590.2 219.4 L590.6 220.1 L591.0 218.7 L591.4 218.7 L591.9 219.6 L592.3 219.5 L592.7 219.0 L593.1 219.1 L593.5 218.6 L594.0 220.4 L594.4 220.0 L594.8 220.5 L595.2 220.6 L595.6 219.5 L596.0 220.1 L596.5 219.4 L596.9 220.3 L597.3 220.4 L597.7 219.0 L598.1 218.7 L598.6 219.1 L599.0 219.9 L599.4 219.5 L599.8 218.8 L600.2 220.4 L600.6 220.4 L601.1 219.7 L601.5 218.9 L601.9 220.6 L602.3 219.9 L602.7 219.0 L603.1 219.5 L603.6 220.1 L604.0 220.7 L604.4 219.9 L604.8 220.2 L605.2 219.3 L605.7 219.4 L606.1 220.8 L606.5 219.7 L606.9 219.2 L607.3 220.2 L607.7 219.3 L608.2 219.4 L608.6 220.0 L609.0 220.2 L609.4 220.3 L609.8 220.5 L610.3 220.0 L610.7 219.2 L611.1 220.6 L611.5 219.2 L611.9 220.1 L612.3 220.0 L612.8 220.5 L613.2 220.6 L613.6 219.7 L614.0 220.5 L614.4 220.6 L614.9 220.2 L615.3 219.5 L615.7 221.1 L616.1 220.5 L616.5 219.4 L616.9 219.8 L617.4 221.3 L617.8 219.8 L618.2 220.1 L618.6 220.9 L619.0 221.0 L619.4 220.7 L619.9 220.9 L620.3 219.5 L620.7 219.6 L621.1 221.4 L621.5 221.1 L622.0 219.5 L622.4 219.6 L622.8 220.0 L623.2 221.4 L623.6 220.0 L624.0 220.9 L624.5 221.4 L624.9 220.8 L625.3 221.4 L625.7 220.1 L626.1 219.9 L626.6 219.6 L627.0 221.1 L627.4 219.8 L627.8 221.6 L628.2 221.1 L628.6 220.1 L629.1 221.3 L629.5 220.0 L629.9 220.7 L630.3 219.9 L630.7 221.3 L631.1 221.5 L631.6 221.6 L632.0 219.8 L632.4 221.5 L632.8 220.9 L633.2 221.5 L633.7 220.8 L634.1 221.1 L634.5 221.1 L634.9 221.5 L635.3 220.0 L635.7 220.0 L636.2 221.0 L636.6 220.5 L637.0 220.7 L637.4 220.0 L637.8 221.5 L638.3 220.0 L638.7 221.7 L639.1 221.6 L639.5 221.0 L639.9 220.3 L640.3 221.4 L640.8 220.5 L641.2 221.0 L641.6 220.4 L642.0 222.1 L642.4 221.3 L642.9 220.9 L643.3 220.4 L643.7 221.7 L644.1 222.0 L644.5 222.0 L644.9 220.5 L645.4 221.1 L645.8 221.0 L646.2 221.9 L646.6 220.7 L647.0 221.7 L647.4 222.4 L647.9 222.0 L648.3 220.5 L648.7 220.7 L649.1 220.8 L649.5 222.0 L650.0 221.8 L650.4 221.7 L650.8 221.6 L651.2 221.5 L651.6 221.9 L652.0 222.0 L652.5 222.6 L652.9 222.2 L653.3 222.4 L653.7 222.6 L654.1 222.5 L654.6 222.3 L655.0 220.9 L655.4 222.3 L655.8 222.6 L656.2 221.8 L656.6 222.7 L657.1 221.3 L657.5 222.9 L657.9 221.9 L658.3 222.4 L658.7 221.5 L659.2 221.6 L659.6 221.7 L660.0 221.6 L660.4 221.1 L660.8 221.8 L661.2 222.9 L661.7 222.2 L662.1 222.8 L662.5 222.4 L662.9 222.6 L663.3 222.9 L663.7 222.4 L664.2 221.4 L664.6 221.3 L665.0 221.7 L665.4 220.9 L665.8 221.3 L666.3 222.6 L666.7 222.6 L667.1 221.4 L667.5 222.3 L667.9 222.3 L668.3 222.5 L668.8 222.3 L669.2 221.8 L669.6 220.9 L670.0 222.4 L670.4 221.3 L670.9 222.0 L671.3 221.4 L671.7 221.8 L672.1 222.6 L672.5 221.0 L672.9 221.7 L673.4 222.0 L673.8 221.7 L674.2 222.5 L674.6 221.4 L675.0 222.4 L675.5 222.0 L675.9 222.5 L676.3 220.8 L676.7 221.0 L677.1 221.1 L677.5 222.4 L678.0 220.6 L678.4 221.1 L678.8 222.0 L679.2 222.5 L679.6 220.9 L680.0 221.4 L680.5 221.9 L680.9 221.9 L681.3 222.0 L681.7 222.0 L682.1 220.9 L682.6 220.9 L683.0 220.5 L683.4 221.8 L683.8 220.8 L684.2 220.9 L684.6 222.3 L685.1 221.6 L685.5 221.5 L685.9 221.6 L686.3 221.5 L686.7 221.7 L687.2 220.9 L687.6 220.4 L688.0 220.4 L688.4 220.3 L688.8 221.0 L689.2 220.5 L689.7 220.4 L690.1 221.2 L690.5 222.1 L690.9 221.5 L691.3 220.7 L691.7 221.7 L692.2 220.5 L692.6 220.3 L693.0 220.7 L693.4 220.9 L693.8 221.5 L694.3 220.9 L694.7 221.5 L695.1 220.2 L695.5 221.9 L695.9 220.7 L696.3 221.7 L696.8 220.0 L697.2 221.6 L697.6 220.4 L698.0 221.7 L698.4 221.5 L698.9 221.3 L699.3 220.5 L699.7 219.9 L700.1 220.3 L700.5 221.7 L700.9 220.2 L701.4 221.2 L701.8 221.0 L702.2 221.1 L702.6 220.2 L703.0 220.1 L703.5 220.0 L703.9 221.7 L704.3 220.5 L704.7 221.0 L705.1 220.9 L705.5 220.1 L706.0 219.8 L706.4 219.7 L706.8 221.4 L707.2 219.9 L707.6 221.6 L708.0 220.3 L708.5 221.1 L708.9 219.9 L709.3 221.2 L709.7 220.1 L710.1 220.3 L710.6 220.6 L711.0 219.7 L711.4 220.0 L711.8 221.1 L712.2 220.0 L712.6 220.2 L713.1 221.0 L713.5 219.9 L713.9 219.8 L714.3 219.8 L714.7 220.1 L715.2 220.1 L715.6 220.6 L716.0 220.2 L716.4 221.0 L716.8 219.4 L717.2 220.6 L717.7 220.9 L718.1 219.7 L718.5 219.2 L718.9 220.0 L719.3 219.4 L719.8 220.0 L720.2 220.5 L720.6 219.3 L721.0 219.3 L721.4 220.0 L721.8 219.4 L722.3 219.5 L722.7 219.9 L723.1 219.2 L723.5 219.1 L723.9 219.6 L724.3 219.8 L724.8 220.8 L725.2 220.0 L725.6 219.0 L726.0 219.3 L726.4 220.3 L726.9 219.9 L727.3 220.5 L727.7 220.7 L728.1 220.4 L728.5 218.9 L728.9 220.6 L729.4 219.7 L729.8 219.1 L730.2 219.0 L730.6 220.3 L731.0 219.0 L731.5 218.7 L731.9 219.1 L732.3 220.4 L732.7 219.4 L733.1 219.9 L733.5 218.6 L734.0 219.3 L734.4 219.1 L734.8 218.8 L735.2 219.7 L735.6 219.1 L736.1 218.6 L736.5 220.3 L736.9 219.3 L737.3 218.6 L737.7 218.3 L738.1 219.5 L738.6 219.2 L739.0 218.2 L739.4 219.1 L739.8 219.6 L740.2 219.2 L740.6 218.6 L741.1 219.1 L741.5 219.3 L741.9 219.4 L742.3 218.3 L742.7 219.6 L743.2 219.9 L743.6 219.5 L744.0 219.7 L744.4 218.8 L744.8 219.8 L745.2 218.4 L745.7 218.5 L746.1 219.2 L746.5 219.9 L746.9 218.2 L747.3 218.5 L747.8 218.1 L748.2 219.0 L748.6 218.4 L749.0 218.5 L749.4 219.6 L749.8 219.3 L750.3 220.0 L750.7 218.9 L751.1 219.5 L751.5 218.2 L751.9 220.0 L752.3 218.6 L752.8 219.1 L753.2 219.2 L753.6 220.1 L754.0 219.2 L754.4 220.2 L754.9 219.4 L755.3 218.6 L755.7 219.9 L756.1 218.6 L756.5 220.2 L756.9 219.1 L757.4 218.7 L757.8 220.2 L758.2 218.9 L758.6 219.1 L759.0 218.9 L759.5 219.6 L759.9 218.3 L760.3 219.0 L760.7 218.6 L761.1 219.9 L761.5 218.3 L762.0 219.5 L762.4 218.8 L762.8 219.2 L763.2 219.4 L763.6 219.8 L764.1 218.6 L764.5 218.8 L764.9 218.6 L765.3 220.3 L765.7 218.7 L766.1 218.6 L766.6 219.4 L767.0 219.5 L767.4 220.2 L767.8 218.5 L768.2 218.9 L768.6 218.7 L769.1 219.6 L769.5 219.3 L769.9 219.2 L770.3 220.2 L770.7 219.8 L771.2 220.2 L771.6 220.4 L772.0 219.0 L772.4 220.4 L772.8 219.3 L773.2 218.6 L773.7 220.3 L774.1 218.7 L774.5 218.5" fill="none" stroke="#12a874" stroke-width="2.2" stroke-linejoin="round" />
<path d="M471.5 191.9 L471.9 191.6 L472.3 192.5 L472.8 191.8 L473.2 190.4 L473.6 190.2 L474.0 190.5 L474.4 190.4 L474.8 190.3 L475.3 190.4 L475.7 189.9 L476.1 190.4 L476.5 191.5 L476.9 191.7 L477.4 192.4 L477.8 192.9 L478.2 193.3 L478.6 192.1 L479.0 192.2 L479.4 194.1 L479.9 193.8 L480.3 193.3 L480.7 194.6 L481.1 194.0 L481.5 194.3 L481.9 194.9 L482.4 195.5 L482.8 196.1 L483.2 195.2 L483.6 196.8 L484.0 196.9 L484.5 196.8 L484.9 197.3 L485.3 197.5 L485.7 195.8 L486.1 196.7 L486.5 197.0 L487.0 197.0 L487.4 196.8 L487.8 195.7 L488.2 197.2 L488.6 196.8 L489.1 195.6 L489.5 195.9 L489.9 196.9 L490.3 195.3 L490.7 195.6 L491.1 196.7 L491.6 196.5 L492.0 195.0 L492.4 196.0 L492.8 195.1 L493.2 195.6 L493.7 195.7 L494.1 194.3 L494.5 194.3 L494.9 194.2 L495.3 194.2 L495.7 193.6 L496.2 193.7 L496.6 194.1 L497.0 194.0 L497.4 193.2 L497.8 194.1 L498.2 194.7 L498.7 193.9 L499.1 193.3 L499.5 193.9 L499.9 193.2 L500.3 192.6 L500.8 193.1 L501.2 192.0 L501.6 193.2 L502.0 192.1 L502.4 192.4 L502.8 193.4 L503.3 192.8 L503.7 192.8 L504.1 192.2 L504.5 192.0 L504.9 192.0 L505.4 192.3 L505.8 190.6 L506.2 191.6 L506.6 190.4 L507.0 190.2 L507.4 191.1 L507.9 190.5 L508.3 190.8 L508.7 190.7 L509.1 189.9 L509.5 189.0 L509.9 188.6 L510.4 189.8 L510.8 190.3 L511.2 189.5 L511.6 189.2 L512.0 189.2 L512.5 189.6 L512.9 190.8 L513.3 189.8 L513.7 191.0 L514.1 192.1 L514.5 194.0 L515.0 195.6 L515.4 194.7 L515.8 195.7 L516.2 197.7 L516.6 197.9 L517.1 196.2 L517.5 196.5 L517.9 196.8 L518.3 196.4 L518.7 196.5 L519.1 196.6 L519.6 196.1 L520.0 195.7 L520.4 195.7 L520.8 195.8 L521.2 195.7 L521.7 196.7 L522.1 196.8 L522.5 196.0 L522.9 197.0 L523.3 196.9 L523.7 196.1 L524.2 196.4 L524.6 195.7 L525.0 197.2 L525.4 196.4 L525.8 195.4 L526.2 195.6 L526.7 196.7 L527.1 196.0 L527.5 196.7 L527.9 195.7 L528.3 196.8 L528.8 196.8 L529.2 195.4 L529.6 196.3 L530.0 195.5 L530.4 196.6 L530.8 196.7 L531.3 196.7 L531.7 195.6 L532.1 195.3 L532.5 196.4 L532.9 196.2 L533.4 195.3 L533.8 195.4 L534.2 196.2 L534.6 195.2 L535.0 196.2 L535.4 195.4 L535.9 195.4 L536.3 195.6 L536.7 195.8 L537.1 196.2 L537.5 194.7 L538.0 196.1 L538.4 195.0 L538.8 195.1 L539.2 195.8 L539.6 195.9 L540.0 195.7 L540.5 196.2 L540.9 194.8 L541.3 194.9 L541.7 195.6 L542.1 194.8 L542.5 194.5 L543.0 194.6 L543.4 195.7 L543.8 195.7 L544.2 195.5 L544.6 195.9 L545.1 195.5 L545.5 194.5 L545.9 194.5 L546.3 195.3 L546.7 193.9 L547.1 195.0 L547.6 193.9 L548.0 193.8 L548.4 194.7 L548.8 193.9 L549.2 195.4 L549.7 195.3 L550.1 194.4 L550.5 193.7 L550.9 193.5 L551.3 194.2 L551.7 194.1 L552.2 193.7 L552.6 194.3 L553.0 193.8 L553.4 194.2 L553.8 192.8 L554.3 192.6 L554.7 193.1 L555.1 193.2 L555.5 192.7 L555.9 193.4 L556.3 192.4 L556.8 192.5 L557.2 192.7 L557.6 193.1 L558.0 193.1 L558.4 192.1 L558.8 192.0 L559.3 192.7 L559.7 192.4 L560.1 191.5 L560.5 190.2 L560.9 190.7 L561.4 191.0 L561.8 190.3 L562.2 190.1 L562.6 192.3 L563.0 192.5 L563.4 191.2 L563.9 192.1 L564.3 192.7 L564.7 192.3 L565.1 192.0 L565.5 193.2 L566.0 193.0 L566.4 192.1 L566.8 191.2 L567.2 191.6 L567.6 190.8 L568.0 192.3 L568.5 190.2 L568.9 190.3 L569.3 190.8 L569.7 189.1 L570.1 188.5 L570.5 188.0 L571.0 187.7 L571.4 187.9 L571.8 188.0 L572.2 186.2 L572.6 185.7 L573.1 186.4 L573.5 185.3 L573.9 184.6 L574.3 183.7 L574.7 183.5 L575.1 184.4 L575.6 182.3 L576.0 182.2 L576.4 182.8 L576.8 182.8 L577.2 182.5 L577.7 181.3 L578.1 181.9 L578.5 180.9 L578.9 179.9 L579.3 179.9 L579.7 180.1 L580.2 179.8 L580.6 178.3 L581.0 178.1 L581.4 179.3 L581.8 177.2 L582.3 178.3 L582.7 177.1 L583.1 176.6 L583.5 176.3 L583.9 176.4 L584.3 177.1 L584.8 175.1 L585.2 176.2 L585.6 174.8 L586.0 174.0 L586.4 174.6 L586.8 173.2 L587.3 172.2 L587.7 172.1 L588.1 172.3 L588.5 171.8 L588.9 170.6 L589.4 168.8 L589.8 169.7 L590.2 168.8 L590.6 168.6 L591.0 167.8 L591.4 165.5 L591.9 165.4 L592.3 164.3 L592.7 162.1 L593.1 161.2 L593.5 160.1 L594.0 158.9 L594.4 157.8 L594.8 156.0 L595.2 154.9 L595.6 155.0 L596.0 152.7 L596.5 151.8 L596.9 151.0 L597.3 149.5 L597.7 147.2 L598.1 147.3 L598.6 146.0 L599.0 145.3 L599.4 143.7 L599.8 142.6 L600.2 142.0 L600.6 140.8 L601.1 142.1 L601.5 142.4 L601.9 144.1 L602.3 143.6 L602.7 145.2 L603.1 145.7 L603.6 147.6 L604.0 147.5 L604.4 149.4 L604.8 150.4 L605.2 151.4 L605.7 150.8 L606.1 153.3 L606.5 153.8 L606.9 154.5 L607.3 155.2 L607.7 154.7 L608.2 156.9 L608.6 156.9 L609.0 157.3 L609.4 157.7 L609.8 159.1 L610.3 159.8 L610.7 160.5 L611.1 159.8 L611.5 160.5 L611.9 160.7 L612.3 160.6 L612.8 161.2 L613.2 160.8 L613.6 162.5 L614.0 161.6 L614.4 161.5 L614.9 161.5 L615.3 162.9 L615.7 161.7 L616.1 162.1 L616.5 161.9 L616.9 162.6 L617.4 162.8 L617.8 161.4 L618.2 161.9 L618.6 162.3 L619.0 161.2 L619.4 161.7 L619.9 160.9 L620.3 159.6 L620.7 160.3 L621.1 159.3 L621.5 157.9 L622.0 158.4 L622.4 158.4 L622.8 156.9 L623.2 155.6 L623.6 154.0 L624.0 153.5 L624.5 151.5 L624.9 149.2 L625.3 148.1 L625.7 146.7 L626.1 146.5 L626.6 144.6 L627.0 142.1 L627.4 143.2 L627.8 141.9 L628.2 144.3 L628.6 145.3 L629.1 147.2 L629.5 148.0 L629.9 149.1 L630.3 152.2 L630.7 155.4 L631.1 157.9 L631.6 159.6 L632.0 161.9 L632.4 165.4 L632.8 167.8 L633.2 168.8 L633.7 172.4 L634.1 174.8 L634.5 175.6 L634.9 177.2 L635.3 179.4 L635.7 181.3 L636.2 181.3 L636.6 182.9 L637.0 184.5 L637.4 186.6 L637.8 186.6 L638.3 188.2 L638.7 188.8 L639.1 189.9 L639.5 189.6 L639.9 191.9 L640.3 192.8 L640.8 192.4 L641.2 193.2 L641.6 192.1 L642.0 193.6 L642.4 193.0 L642.9 193.5 L643.3 193.8 L643.7 192.9 L644.1 194.1 L644.5 192.8 L644.9 192.5 L645.4 193.6 L645.8 194.5 L646.2 194.6 L646.6 194.8 L647.0 194.0 L647.4 194.9 L647.9 194.1 L648.3 193.3 L648.7 194.3 L649.1 194.6 L649.5 193.9 L650.0 194.2 L650.4 193.6 L650.8 193.6 L651.2 193.9 L651.6 194.1 L652.0 194.0 L652.5 193.3 L652.9 193.1 L653.3 193.8 L653.7 194.5 L654.1 194.6 L654.6 193.6 L655.0 193.6 L655.4 194.1 L655.8 193.5 L656.2 194.3 L656.6 194.9 L657.1 193.5 L657.5 194.3 L657.9 194.6 L658.3 194.6 L658.7 194.6 L659.2 194.6 L659.6 193.7 L660.0 194.8 L660.4 195.0 L660.8 193.3 L661.2 195.1 L661.7 194.1 L662.1 193.4 L662.5 193.3 L662.9 194.8 L663.3 194.6 L663.7 193.5 L664.2 194.1 L664.6 194.5 L665.0 195.2 L665.4 193.9 L665.8 194.8 L666.3 193.7 L666.7 193.7 L667.1 193.6 L667.5 194.1 L667.9 194.5 L668.3 193.9 L668.8 193.6 L669.2 193.7 L669.6 193.5 L670.0 193.7 L670.4 193.9 L670.9 194.3 L671.3 193.6 L671.7 194.2 L672.1 194.1 L672.5 195.1 L672.9 194.2 L673.4 195.1 L673.8 194.1 L674.2 193.5 L674.6 194.3 L675.0 193.4 L675.5 193.4 L675.9 193.2 L676.3 194.5 L676.7 195.0 L677.1 193.8 L677.5 193.7 L678.0 193.8 L678.4 193.7 L678.8 194.3 L679.2 193.7 L679.6 193.2 L680.0 194.6 L680.5 194.0 L680.9 192.9 L681.3 194.6 L681.7 194.3 L682.1 193.5 L682.6 194.1 L683.0 194.6 L683.4 193.6 L683.8 193.6 L684.2 193.4 L684.6 193.8 L685.1 194.0 L685.5 194.2 L685.9 194.6 L686.3 193.0 L686.7 193.4 L687.2 194.3 L687.6 194.2 L688.0 193.8 L688.4 194.0 L688.8 193.3 L689.2 194.5 L689.7 193.6 L690.1 193.3 L690.5 192.9 L690.9 192.7 L691.3 194.3 L691.7 194.0 L692.2 192.5 L692.6 193.0 L693.0 193.3 L693.4 193.3 L693.8 193.0 L694.3 194.1 L694.7 192.9 L695.1 193.3 L695.5 194.0 L695.9 193.4 L696.3 193.1 L696.8 192.7 L697.2 192.8 L697.6 193.2 L698.0 193.6 L698.4 192.5 L698.9 192.7 L699.3 192.7 L699.7 192.6 L700.1 193.7 L700.5 192.9 L700.9 192.3 L701.4 192.4 L701.8 193.4 L702.2 192.0 L702.6 193.0 L703.0 191.7 L703.5 192.0 L703.9 191.7 L704.3 193.2 L704.7 191.8 L705.1 191.9 L705.5 191.6 L706.0 191.9 L706.4 192.9 L706.8 192.8 L707.2 193.2 L707.6 193.2 L708.0 192.4 L708.5 193.1 L708.9 191.4 L709.3 193.0 L709.7 192.0 L710.1 191.5 L710.6 192.6 L711.0 192.8 L711.4 191.8 L711.8 191.2 L712.2 192.7 L712.6 192.4 L713.1 192.0 L713.5 192.7 L713.9 190.7 L714.3 190.7 L714.7 190.8 L715.2 190.5 L715.6 191.8 L716.0 191.6 L716.4 190.5 L716.8 190.5 L717.2 190.5 L717.7 191.3 L718.1 191.3 L718.5 191.9 L718.9 190.6 L719.3 191.8 L719.8 190.6 L720.2 190.4 L720.6 190.1 L721.0 190.0 L721.4 191.4 L721.8 191.4 L722.3 190.7 L722.7 189.6 L723.1 189.6 L723.5 189.4 L723.9 189.8 L724.3 190.5 L724.8 189.1 L725.2 189.9 L725.6 190.2 L726.0 188.8 L726.4 189.5 L726.9 190.2 L727.3 189.7 L727.7 189.4 L728.1 190.2 L728.5 189.5 L728.9 188.9 L729.4 189.0 L729.8 190.0 L730.2 189.8 L730.6 189.8 L731.0 189.1 L731.5 188.2 L731.9 188.2 L732.3 188.5 L732.7 189.0 L733.1 187.6 L733.5 189.1 L734.0 189.0 L734.4 188.4 L734.8 187.3 L735.2 188.9 L735.6 188.0 L736.1 188.5 L736.5 188.2 L736.9 188.5 L737.3 187.8 L737.7 188.8 L738.1 188.7 L738.6 188.6 L739.0 187.9 L739.4 187.2 L739.8 187.3 L740.2 187.0 L740.6 188.2 L741.1 187.9 L741.5 187.8 L741.9 187.8 L742.3 188.1 L742.7 187.4 L743.2 186.7 L743.6 187.5 L744.0 186.5 L744.4 187.2 L744.8 186.3 L745.2 187.7 L745.7 186.9 L746.1 186.5 L746.5 187.8 L746.9 186.1 L747.3 187.8 L747.8 187.4 L748.2 186.2 L748.6 187.4 L749.0 187.0 L749.4 187.7 L749.8 187.0 L750.3 186.7 L750.7 187.7 L751.1 186.0 L751.5 187.4 L751.9 186.0 L752.3 186.4 L752.8 186.0 L753.2 187.6 L753.6 186.7 L754.0 187.2 L754.4 186.3 L754.9 187.2 L755.3 187.0 L755.7 185.9 L756.1 186.7 L756.5 187.2 L756.9 186.1 L757.4 187.0 L757.8 186.2 L758.2 186.4 L758.6 187.5 L759.0 187.5 L759.5 187.6 L759.9 186.5 L760.3 186.8 L760.7 187.2 L761.1 187.1 L761.5 186.5 L762.0 187.3 L762.4 186.4 L762.8 187.4 L763.2 186.5 L763.6 185.7 L764.1 187.0 L764.5 185.8 L764.9 187.0 L765.3 185.8 L765.7 187.7 L766.1 186.9 L766.6 187.3 L767.0 186.2 L767.4 187.3 L767.8 186.8 L768.2 186.6 L768.6 187.8 L769.1 186.3 L769.5 187.2 L769.9 186.5 L770.3 188.1 L770.7 188.2 L771.2 186.6 L771.6 187.5 L772.0 187.6 L772.4 188.1 L772.8 188.2 L773.2 187.5 L773.7 188.7 L774.1 187.3 L774.5 187.3" fill="none" stroke="#ff1010" stroke-width="2.2" stroke-linejoin="round" />
</g>
<rect x="471.5" y="35" width="303.0" height="224.60000000000002" fill="none" stroke="#000" stroke-width="2.6"/>
<line x1="487.2" y1="259.6" x2="487.2" y2="257.0" stroke="#000" stroke-width="1.6"/>
<line x1="513.3" y1="259.6" x2="513.3" y2="255.1" stroke="#000" stroke-width="1.6"/>
<text x="513.3" y="274.6" font-size="13" text-anchor="middle" font-weight="normal" fill="#2a2a2a" font-family="Liberation Sans, sans-serif" >500</text>
<line x1="539.4" y1="259.6" x2="539.4" y2="257.0" stroke="#000" stroke-width="1.6"/>
<line x1="565.5" y1="259.6" x2="565.5" y2="255.1" stroke="#000" stroke-width="1.6"/>
<text x="565.5" y="274.6" font-size="13" text-anchor="middle" font-weight="normal" fill="#2a2a2a" font-family="Liberation Sans, sans-serif" >1000</text>
<line x1="591.7" y1="259.6" x2="591.7" y2="257.0" stroke="#000" stroke-width="1.6"/>
<line x1="617.8" y1="259.6" x2="617.8" y2="255.1" stroke="#000" stroke-width="1.6"/>
<text x="617.8" y="274.6" font-size="13" text-anchor="middle" font-weight="normal" fill="#2a2a2a" font-family="Liberation Sans, sans-serif" >1500</text>
<line x1="643.9" y1="259.6" x2="643.9" y2="257.0" stroke="#000" stroke-width="1.6"/>
<line x1="670.0" y1="259.6" x2="670.0" y2="255.1" stroke="#000" stroke-width="1.6"/>
<text x="670.0" y="274.6" font-size="13" text-anchor="middle" font-weight="normal" fill="#2a2a2a" font-family="Liberation Sans, sans-serif" >2000</text>
<line x1="696.1" y1="259.6" x2="696.1" y2="257.0" stroke="#000" stroke-width="1.6"/>
<line x1="722.3" y1="259.6" x2="722.3" y2="255.1" stroke="#000" stroke-width="1.6"/>
<text x="722.3" y="274.6" font-size="13" text-anchor="middle" font-weight="normal" fill="#2a2a2a" font-family="Liberation Sans, sans-serif" >2500</text>
<line x1="748.4" y1="259.6" x2="748.4" y2="257.0" stroke="#000" stroke-width="1.6"/>
<line x1="774.5" y1="259.6" x2="774.5" y2="255.1" stroke="#000" stroke-width="1.6"/>
<text x="774.5" y="274.6" font-size="13" text-anchor="middle" font-weight="normal" fill="#2a2a2a" font-family="Liberation Sans, sans-serif" >3000</text>
<line x1="639" y1="49.4" x2="672" y2="49.4" stroke="#1010ff" stroke-width="1.4"/>
<text x="676.0" y="54.6" font-size="14" text-anchor="start" font-weight="normal" fill="#2a2a2a" font-family="Liberation Sans, sans-serif" >SiO<tspan font-size="9.5" dy="4.6">x</tspan></text>
<line x1="639" y1="71.2" x2="672" y2="71.2" stroke="#12a874" stroke-width="1.4"/>
<text x="676.0" y="76.4" font-size="14" text-anchor="start" font-weight="normal" fill="#2a2a2a" font-family="Liberation Sans, sans-serif" >SiO<tspan font-size="9.5" dy="4.6">x</tspan><tspan dy="-4.6">@TiO</tspan><tspan font-size="9.5" dy="4.6">2</tspan></text>
<line x1="639" y1="93.0" x2="672" y2="93.0" stroke="#ff1010" stroke-width="1.4"/>
<text x="676.0" y="98.2" font-size="14" text-anchor="start" font-weight="normal" fill="#2a2a2a" font-family="Liberation Sans, sans-serif" >SiO<tspan font-size="9.5" dy="4.6">x</tspan><tspan dy="-4.6">@TiO</tspan><tspan font-size="9.5" dy="4.6">2</tspan><tspan dy="-4.6">@C</tspan></text>
<text x="406.0" y="31.0" font-size="34" text-anchor="start" font-weight="normal" fill="#000" font-family="Liberation Sans, sans-serif" stroke="#000" stroke-width="0.8">b</text>
<text x="458.0" y="147.0" font-size="17" text-anchor="middle" font-weight="bold" fill="#111" font-family="Liberation Sans, sans-serif" transform="rotate(-90 458 147)" textLength="122" lengthAdjust="spacingAndGlyphs">Intensity (a.u.)</text>
<text x="623.4" y="298.8" font-size="17" text-anchor="middle" font-weight="bold" fill="#111" font-family="Liberation Sans, sans-serif" letter-spacing="0.6">Raman shift (cm<tspan font-size="10" dy="-7">-1</tspan><tspan dy="7">)</tspan></text>
<text x="484.5" y="185.0" font-size="12.3" fill="#2a2a2a" font-family="Liberation Sans, sans-serif" transform="rotate(-90 484.5 185.0)">B<tspan font-size="7.8" dy="3">g</tspan><tspan dy="-3">,TiO</tspan><tspan font-size="7.8" dy="3">2</tspan><tspan dy="-3"></tspan></text>
<text x="500.5" y="190.6" font-size="12.3" fill="#2a2a2a" font-family="Liberation Sans, sans-serif" transform="rotate(-90 500.5 190.6)">E<tspan font-size="7.8" dy="3">g</tspan><tspan dy="-3">,TiO</tspan><tspan font-size="7.8" dy="3">2</tspan><tspan dy="-3"></tspan></text>
<text x="516.0" y="186.5" font-size="12.3" fill="#2a2a2a" font-family="Liberation Sans, sans-serif" transform="rotate(-90 516.0 186.5)">T<tspan font-size="7.8" dy="3">2g</tspan><tspan dy="-3">,Si</tspan></text>
<text x="565.0" y="183.2" font-size="12.3" fill="#2a2a2a" font-family="Liberation Sans, sans-serif" transform="rotate(-90 565.0 183.2)">A<tspan font-size="7.8" dy="3">1g</tspan><tspan dy="-3">,TiO</tspan><tspan font-size="7.8" dy="3">2</tspan><tspan dy="-3"></tspan></text>
<text x="607.5" y="137.4" font-size="12.3" fill="#2a2a2a" font-family="Liberation Sans, sans-serif" transform="rotate(-90 607.5 137.4)">A<tspan font-size="7.8" dy="3">1g</tspan><tspan dy="-3">,C (D-band)</tspan></text>
<text x="634.5" y="140.0" font-size="12.3" fill="#2a2a2a" font-family="Liberation Sans, sans-serif" transform="rotate(-90 634.5 140.0)">E<tspan font-size="7.8" dy="3">2g2</tspan><tspan dy="-3">,C (G-band)</tspan></text>
<g clip-path="url(#cc)">
<path d="M77.5 349.8 L82.0 349.9 L88.2 349.9 L95.6 350.0 L103.7 350.1 L112.0 350.2 L120.0 350.3 L127.9 350.4 L136.2 350.5 L144.7 350.6 L153.2 350.7 L161.7 350.8 L170.0 350.9 L178.2 351.0 L186.5 351.1 L194.8 351.2 L202.8 351.3 L210.6 351.4 L218.0 351.5 L224.9 351.6 L231.3 351.8 L237.4 352.0 L243.4 352.2 L249.6 352.3 L256.0 352.3 L262.7 352.2 L269.4 352.1 L276.3 352.0 L283.3 351.7 L290.5 351.4 L298.0 351.0 L306.0 350.5 L314.4 349.8 L323.1 349.1 L331.7 348.4 L339.7 347.7 L347.0 347.0 L353.7 346.3 L360.1 345.7 L366.1 345.0 L371.3 344.4 L375.7 343.9 L379.0 343.5" fill="none" stroke="#1010ff" stroke-width="3.0" stroke-linejoin="round" />
<path d="M77.5 350.5 L79.4 350.8 L81.9 351.3 L85.0 351.8 L88.3 352.4 L91.7 353.0 L95.0 353.5 L98.1 354.0 L101.3 354.5 L104.5 354.9 L107.9 355.4 L111.3 355.9 L115.0 356.3 L118.9 356.7 L123.0 357.1 L127.2 357.5 L131.5 357.9 L135.8 358.3 L140.0 358.6 L144.2 358.9 L148.3 359.2 L152.5 359.5 L156.7 359.7 L160.8 360.0 L165.0 360.3 L169.3 360.6 L173.9 361.0 L178.4 361.3 L182.7 361.6 L186.7 362.0 L190.0 362.3 L192.6 362.6 L194.7 362.7 L196.4 362.9 L197.8 363.1 L199.1 363.5 L200.4 364.0 L201.7 364.7 L203.0 365.6 L204.1 366.5 L205.1 367.6 L206.1 368.7 L207.0 369.8 L207.9 371.0 L208.7 372.3 L209.4 373.7 L210.1 375.1 L210.8 376.4 L211.5 377.6 L212.2 378.7 L212.7 379.8 L213.3 380.8 L213.9 381.8 L214.6 382.6 L215.4 383.2 L216.3 383.6 L217.4 383.8 L218.5 383.9 L219.7 384.0 L220.8 384.0 L222.0 384.0 L223.0 384.1 L223.9 384.1 L224.7 384.1 L225.8 384.1 L227.2 384.2 L229.2 384.2 L231.9 384.2 L235.2 384.3 L238.8 384.4 L242.6 384.4 L246.4 384.5 L250.0 384.6 L253.5 384.7 L257.0 384.8 L260.6 384.9 L264.0 385.0 L267.2 385.2 L270.0 385.5 L272.5 385.9 L274.7 386.5 L276.6 387.1 L278.4 387.7 L280.1 388.4 L281.6 389.0 L283.0 389.6 L284.1 390.2 L285.1 390.8 L286.0 391.4 L286.9 392.0 L288.0 392.5 L289.1 393.0 L290.1 393.4 L291.2 393.9 L292.4 394.3 L293.7 394.7 L295.4 395.0 L297.4 395.3 L299.8 395.6 L302.3 395.8 L305.0 396.0 L307.6 396.2 L310.0 396.4 L312.0 396.5 L313.6 396.6 L315.2 396.7 L317.0 396.8 L319.6 396.9 L323.1 397.1 L328.1 397.4 L334.3 397.9 L341.2 398.4 L348.1 398.8 L354.6 399.3 L360.0 399.7 L364.4 400.0 L368.4 400.3 L371.8 400.6 L374.7 400.9 L377.1 401.0 L379.0 401.2" fill="none" stroke="#12a874" stroke-width="3.0" stroke-linejoin="round" />
<path d="M77.5 350.5 L79.4 350.8 L81.9 351.2 L85.0 351.7 L88.3 352.3 L91.7 352.8 L95.0 353.3 L98.1 353.8 L101.3 354.2 L104.5 354.7 L107.9 355.1 L111.3 355.6 L115.0 356.0 L118.9 356.4 L123.0 356.8 L127.2 357.2 L131.5 357.6 L135.8 358.0 L140.0 358.3 L144.2 358.6 L148.3 358.8 L152.5 359.0 L156.7 359.2 L160.8 359.3 L165.0 359.5 L169.4 359.7 L174.0 359.8 L178.6 360.0 L182.9 360.1 L186.8 360.3 L190.0 360.5 L192.3 360.7 L194.0 360.9 L195.1 361.1 L196.0 361.4 L196.8 361.7 L197.8 362.0 L198.8 362.4 L199.7 362.7 L200.5 363.2 L201.3 363.6 L202.1 364.1 L203.0 364.6 L204.0 365.2 L205.0 365.8 L206.1 366.4 L207.2 367.1 L208.4 367.8 L209.6 368.5 L210.9 369.2 L212.4 370.0 L213.8 370.8 L215.3 371.6 L216.7 372.3 L218.0 373.0 L219.1 373.6 L220.1 374.2 L221.1 374.8 L222.0 375.3 L222.9 375.7 L223.9 376.1 L225.0 376.4 L226.1 376.5 L227.2 376.6 L228.3 376.7 L229.4 376.8 L230.5 377.0 L231.6 377.3 L232.7 377.7 L233.8 378.1 L234.9 378.5 L236.0 379.0 L237.0 379.6 L237.9 380.2 L238.8 380.8 L239.7 381.4 L240.5 382.2 L241.3 383.1 L242.2 384.2 L243.1 385.6 L243.9 387.1 L244.8 388.9 L245.7 390.7 L246.5 392.6 L247.4 394.6 L248.3 396.6 L249.1 398.6 L250.0 400.7 L250.9 402.8 L251.7 405.1 L252.6 407.6 L253.5 410.1 L254.3 412.7 L255.2 415.4 L256.1 418.3 L257.0 421.5 L257.9 425.0 L258.8 429.0 L259.8 433.6 L260.7 438.4 L261.7 443.2 L262.7 447.9 L263.6 452.0 L264.5 455.8 L265.4 459.3 L266.3 462.7 L267.2 465.8 L268.1 468.6 L269.1 471.0 L270.2 473.0 L271.3 474.7 L272.5 476.1 L273.6 477.2 L274.8 478.2 L276.0 479.0 L277.2 479.6 L278.3 480.0 L279.5 480.2 L280.7 480.2 L281.8 480.3 L283.0 480.4 L284.1 480.5 L285.2 480.5 L286.3 480.5 L287.4 480.5 L288.6 480.7 L289.9 481.0 L291.4 481.5 L293.0 482.0 L294.7 482.7 L296.4 483.5 L298.0 484.5 L299.6 485.6 L301.1 486.8 L302.5 488.2 L303.8 489.7 L305.2 491.4 L306.5 493.2 L307.9 495.3 L309.3 497.6 L310.7 500.2 L312.1 503.0 L313.5 506.0 L314.9 509.0 L316.2 512.0 L317.4 515.2 L318.7 518.6 L319.8 522.1 L321.0 525.5 L322.1 528.7 L323.1 531.4 L324.1 533.7 L325.0 535.6 L325.9 537.3 L326.7 538.7 L327.6 540.1 L328.5 541.5 L329.4 542.9 L330.2 544.3 L331.0 545.5 L331.9 546.6 L333.0 547.5 L334.2 548.0 L335.7 548.1 L337.3 547.9 L339.0 547.4 L340.9 546.8 L342.9 546.1 L345.0 545.6 L347.2 545.1 L349.5 544.6 L352.0 544.1 L354.5 543.5 L357.2 543.0 L360.0 542.4 L363.2 541.8 L366.7 541.1 L370.4 540.4 L373.9 539.7 L376.9 539.2 L379.0 538.8" fill="none" stroke="#ff1010" stroke-width="3.0" stroke-linejoin="round" />
</g>
<rect x="77.5" y="338" width="301.5" height="225" fill="none" stroke="#000" stroke-width="2.6"/>
<line x1="97.6" y1="563" x2="97.6" y2="558.5" stroke="#000" stroke-width="1.6"/>
<text x="97.6" y="578.4" font-size="13" text-anchor="middle" font-weight="normal" fill="#2a2a2a" font-family="Liberation Sans, sans-serif" >100</text>
<line x1="117.7" y1="563" x2="117.7" y2="560.4" stroke="#000" stroke-width="1.6"/>
<line x1="137.8" y1="563" x2="137.8" y2="558.5" stroke="#000" stroke-width="1.6"/>
<text x="137.8" y="578.4" font-size="13" text-anchor="middle" font-weight="normal" fill="#2a2a2a" font-family="Liberation Sans, sans-serif" >200</text>
<line x1="157.9" y1="563" x2="157.9" y2="560.4" stroke="#000" stroke-width="1.6"/>
<line x1="178.0" y1="563" x2="178.0" y2="558.5" stroke="#000" stroke-width="1.6"/>
<text x="178.0" y="578.4" font-size="13" text-anchor="middle" font-weight="normal" fill="#2a2a2a" font-family="Liberation Sans, sans-serif" >300</text>
<line x1="198.1" y1="563" x2="198.1" y2="560.4" stroke="#000" stroke-width="1.6"/>
<line x1="218.2" y1="563" x2="218.2" y2="558.5" stroke="#000" stroke-width="1.6"/>
<text x="218.2" y="578.4" font-size="13" text-anchor="middle" font-weight="normal" fill="#2a2a2a" font-family="Liberation Sans, sans-serif" >400</text>
<line x1="238.3" y1="563" x2="238.3" y2="560.4" stroke="#000" stroke-width="1.6"/>
<line x1="258.4" y1="563" x2="258.4" y2="558.5" stroke="#000" stroke-width="1.6"/>
<text x="258.4" y="578.4" font-size="13" text-anchor="middle" font-weight="normal" fill="#2a2a2a" font-family="Liberation Sans, sans-serif" >500</text>
<line x1="278.5" y1="563" x2="278.5" y2="560.4" stroke="#000" stroke-width="1.6"/>
<line x1="298.6" y1="563" x2="298.6" y2="558.5" stroke="#000" stroke-width="1.6"/>
<text x="298.6" y="578.4" font-size="13" text-anchor="middle" font-weight="normal" fill="#2a2a2a" font-family="Liberation Sans, sans-serif" >600</text>
<line x1="318.7" y1="563" x2="318.7" y2="560.4" stroke="#000" stroke-width="1.6"/>
<line x1="338.8" y1="563" x2="338.8" y2="558.5" stroke="#000" stroke-width="1.6"/>
<text x="338.8" y="578.4" font-size="13" text-anchor="middle" font-weight="normal" fill="#2a2a2a" font-family="Liberation Sans, sans-serif" >700</text>
<line x1="358.9" y1="563" x2="358.9" y2="560.4" stroke="#000" stroke-width="1.6"/>
<line x1="379.0" y1="563" x2="379.0" y2="558.5" stroke="#000" stroke-width="1.6"/>
<text x="379.0" y="578.4" font-size="13" text-anchor="middle" font-weight="normal" fill="#2a2a2a" font-family="Liberation Sans, sans-serif" >800</text>
<line x1="77.5" y1="538.0" x2="82.0" y2="538.0" stroke="#000" stroke-width="1.6"/>
<text x="72.0" y="542.0" font-size="13" text-anchor="end" font-weight="normal" fill="#2a2a2a" font-family="Liberation Sans, sans-serif" >85</text>
<line x1="77.5" y1="506.8" x2="80.1" y2="506.8" stroke="#000" stroke-width="1.6"/>
<line x1="77.5" y1="475.5" x2="82.0" y2="475.5" stroke="#000" stroke-width="1.6"/>
<text x="72.0" y="479.5" font-size="13" text-anchor="end" font-weight="normal" fill="#2a2a2a" font-family="Liberation Sans, sans-serif" >90</text>
<line x1="77.5" y1="444.2" x2="80.1" y2="444.2" stroke="#000" stroke-width="1.6"/>
<line x1="77.5" y1="413.0" x2="82.0" y2="413.0" stroke="#000" stroke-width="1.6"/>
<text x="72.0" y="417.0" font-size="13" text-anchor="end" font-weight="normal" fill="#2a2a2a" font-family="Liberation Sans, sans-serif" >95</text>
<line x1="77.5" y1="381.8" x2="80.1" y2="381.8" stroke="#000" stroke-width="1.6"/>
<line x1="77.5" y1="350.5" x2="82.0" y2="350.5" stroke="#000" stroke-width="1.6"/>
<text x="72.0" y="354.5" font-size="13" text-anchor="end" font-weight="normal" fill="#2a2a2a" font-family="Liberation Sans, sans-serif" >100</text>
<line x1="88.5" y1="381.75" x2="120" y2="381.75" stroke="#1010ff" stroke-width="2.6"/>
<text x="122.4" y="386.4" font-size="13.6" text-anchor="start" font-weight="normal" fill="#2a2a2a" font-family="Liberation Sans, sans-serif" >SiO<tspan font-size="8.8" dy="5">x</tspan></text>
<line x1="88.5" y1="402.75" x2="120" y2="402.75" stroke="#12a874" stroke-width="2.6"/>
<text x="122.4" y="407.4" font-size="13.6" text-anchor="start" font-weight="normal" fill="#2a2a2a" font-family="Liberation Sans, sans-serif" >SiO<tspan font-size="8.8" dy="5">x</tspan><tspan dy="-5">@TiO</tspan><tspan font-size="8.8" dy="5">2</tspan></text>
<line x1="88.5" y1="423.75" x2="120" y2="423.75" stroke="#ff1010" stroke-width="2.6"/>
<text x="122.4" y="428.4" font-size="13.6" text-anchor="start" font-weight="normal" fill="#2a2a2a" font-family="Liberation Sans, sans-serif" >SiO<tspan font-size="8.8" dy="5">x</tspan><tspan dy="-5">@TiO</tspan><tspan font-size="8.8" dy="5">2</tspan><tspan dy="-5">@C</tspan></text>
<line x1="218.3" y1="349" x2="218.3" y2="545" stroke="#555" stroke-width="1"/>
<polygon points="215.8,543 220.8,543 218.3,550.5" fill="#222"/>
<line x1="282.5" y1="350" x2="282.5" y2="397" stroke="#555" stroke-width="1"/>
<polygon points="280,395 285,395 282.5,402.5" fill="#222"/>
<line x1="140" y1="349" x2="246" y2="349" stroke="#999" stroke-width="0.8" stroke-dasharray="1.5 1"/>
<line x1="247" y1="549.4" x2="353" y2="549.4" stroke="#888" stroke-width="0.8" stroke-dasharray="1.5 1"/>
<line x1="167" y1="549" x2="210" y2="549" stroke="#bbb" stroke-width="0.8" stroke-dasharray="1.5 1"/>
<text x="169.0" y="461.3" font-size="13" text-anchor="start" font-weight="normal" fill="#2a2a2a" font-family="Liberation Sans, sans-serif" >-15.8%</text>
<text x="253.4" y="379.0" font-size="13" text-anchor="start" font-weight="normal" fill="#2a2a2a" font-family="Liberation Sans, sans-serif" >-4%</text>
<path d="M31.9 314.8 C30.6 314.1 29.2 313.9 27.7 313.9 C23 313.9 20.8 317 20.8 321.7 C20.8 326.5 23.3 329.1 27.7 329.1 C29.3 329.1 30.8 328.8 31.9 328.2" fill="none" stroke="#000" stroke-width="3.3"/>
<text x="42.6" y="453.0" font-size="17.5" text-anchor="middle" font-weight="bold" fill="#111" font-family="Liberation Sans, sans-serif" transform="rotate(-90 42.6 453)" textLength="90" lengthAdjust="spacingAndGlyphs">Weight (%)</text>
<text x="235.8" y="597.8" font-size="17" text-anchor="middle" font-weight="bold" fill="#111" font-family="Liberation Sans, sans-serif" letter-spacing="0.25">Temperature (<tspan font-size="10" dy="-7">o</tspan><tspan dy="7">C)</tspan></text>
<g clip-path="url(#cd)">
<path d="M489.5 543.5 L498.8 542.7 L509.5 541.8 L523.2 540.6 L536.9 539.4 L552.0 538.1 L564.9 536.9 L578.0 535.9 L591.7 535.1 L605.4 534.2 L619.1 532.9 L632.8 531.3 L646.5 529.8 L660.3 529.2 L674.0 528.7 L687.7 527.3 L691.5 526.7 L701.4 524.4 L705.5 523.4 L720.8 520.0 L732.9 513.6 L747.7 497.3 L759.7 404.6" fill="none" stroke="#1010ff" stroke-width="1.4" stroke-linejoin="round" />
<path d="M495.0 541.6 L505.1 540.7 L513.9 539.9 L527.6 538.8 L541.0 537.5 L555.0 536.1 L568.7 534.8 L582.1 534.0 L595.8 533.1 L609.5 532.2 L623.2 530.8 L637.0 529.3 L650.7 527.9 L664.4 526.8 L678.1 525.6 L685.7 524.9 L696.2 522.6 L710.1 518.5 L723.3 514.4 L738.6 504.6 L759.7 404.6" fill="none" stroke="#1010ff" stroke-width="1.4" stroke-linejoin="round" />
<circle cx="489.5" cy="543.5" r="3.6" fill="#1010ff"/>
<circle cx="488.8" cy="542.8" r="1.1" fill="#fff" fill-opacity="0.55"/>
<circle cx="498.8" cy="542.7" r="3.6" fill="#1010ff"/>
<circle cx="498.1" cy="542.0" r="1.1" fill="#fff" fill-opacity="0.55"/>
<circle cx="509.5" cy="541.8" r="3.6" fill="#1010ff"/>
<circle cx="508.8" cy="541.1" r="1.1" fill="#fff" fill-opacity="0.55"/>
<circle cx="523.2" cy="540.6" r="3.6" fill="#1010ff"/>
<circle cx="522.5" cy="539.9" r="1.1" fill="#fff" fill-opacity="0.55"/>
<circle cx="536.9" cy="539.4" r="3.6" fill="#1010ff"/>
<circle cx="536.2" cy="538.7" r="1.1" fill="#fff" fill-opacity="0.55"/>
<circle cx="552.0" cy="538.1" r="3.6" fill="#1010ff"/>
<circle cx="551.3" cy="537.4" r="1.1" fill="#fff" fill-opacity="0.55"/>
<circle cx="564.9" cy="536.9" r="3.6" fill="#1010ff"/>
<circle cx="564.2" cy="536.2" r="1.1" fill="#fff" fill-opacity="0.55"/>
<circle cx="578.0" cy="535.9" r="3.6" fill="#1010ff"/>
<circle cx="577.3" cy="535.2" r="1.1" fill="#fff" fill-opacity="0.55"/>
<circle cx="591.7" cy="535.1" r="3.6" fill="#1010ff"/>
<circle cx="591.0" cy="534.4" r="1.1" fill="#fff" fill-opacity="0.55"/>
<circle cx="605.4" cy="534.2" r="3.6" fill="#1010ff"/>
<circle cx="604.7" cy="533.5" r="1.1" fill="#fff" fill-opacity="0.55"/>
<circle cx="619.1" cy="532.9" r="3.6" fill="#1010ff"/>
<circle cx="618.4" cy="532.2" r="1.1" fill="#fff" fill-opacity="0.55"/>
<circle cx="632.8" cy="531.3" r="3.6" fill="#1010ff"/>
<circle cx="632.1" cy="530.6" r="1.1" fill="#fff" fill-opacity="0.55"/>
<circle cx="646.5" cy="529.8" r="3.6" fill="#1010ff"/>
<circle cx="645.8" cy="529.1" r="1.1" fill="#fff" fill-opacity="0.55"/>
<circle cx="660.3" cy="529.2" r="3.6" fill="#1010ff"/>
<circle cx="659.6" cy="528.5" r="1.1" fill="#fff" fill-opacity="0.55"/>
<circle cx="674.0" cy="528.7" r="3.6" fill="#1010ff"/>
<circle cx="673.3" cy="528.0" r="1.1" fill="#fff" fill-opacity="0.55"/>
<circle cx="687.7" cy="527.3" r="3.6" fill="#1010ff"/>
<circle cx="687.0" cy="526.6" r="1.1" fill="#fff" fill-opacity="0.55"/>
<circle cx="691.5" cy="526.7" r="3.6" fill="#1010ff"/>
<circle cx="690.8" cy="526.0" r="1.1" fill="#fff" fill-opacity="0.55"/>
<circle cx="701.4" cy="524.4" r="3.6" fill="#1010ff"/>
<circle cx="700.7" cy="523.7" r="1.1" fill="#fff" fill-opacity="0.55"/>
<circle cx="705.5" cy="523.4" r="3.6" fill="#1010ff"/>
<circle cx="704.8" cy="522.7" r="1.1" fill="#fff" fill-opacity="0.55"/>
<circle cx="720.8" cy="520.0" r="3.6" fill="#1010ff"/>
<circle cx="720.1" cy="519.3" r="1.1" fill="#fff" fill-opacity="0.55"/>
<circle cx="732.9" cy="513.6" r="3.6" fill="#1010ff"/>
<circle cx="732.2" cy="512.9" r="1.1" fill="#fff" fill-opacity="0.55"/>
<circle cx="747.7" cy="497.3" r="3.6" fill="#1010ff"/>
<circle cx="747.0" cy="496.6" r="1.1" fill="#fff" fill-opacity="0.55"/>
<circle cx="759.7" cy="404.6" r="3.6" fill="#1010ff"/>
<circle cx="759.0" cy="403.9" r="1.1" fill="#fff" fill-opacity="0.55"/>
<circle cx="495.0" cy="541.6" r="3.6" fill="#1010ff"/>
<circle cx="494.3" cy="540.9" r="1.1" fill="#fff" fill-opacity="0.55"/>
<circle cx="505.1" cy="540.7" r="3.6" fill="#1010ff"/>
<circle cx="504.4" cy="540.0" r="1.1" fill="#fff" fill-opacity="0.55"/>
<circle cx="513.9" cy="539.9" r="3.6" fill="#1010ff"/>
<circle cx="513.2" cy="539.2" r="1.1" fill="#fff" fill-opacity="0.55"/>
<circle cx="527.6" cy="538.8" r="3.6" fill="#1010ff"/>
<circle cx="526.9" cy="538.1" r="1.1" fill="#fff" fill-opacity="0.55"/>
<circle cx="541.0" cy="537.5" r="3.6" fill="#1010ff"/>
<circle cx="540.3" cy="536.8" r="1.1" fill="#fff" fill-opacity="0.55"/>
<circle cx="555.0" cy="536.1" r="3.6" fill="#1010ff"/>
<circle cx="554.3" cy="535.4" r="1.1" fill="#fff" fill-opacity="0.55"/>
<circle cx="568.7" cy="534.8" r="3.6" fill="#1010ff"/>
<circle cx="568.0" cy="534.1" r="1.1" fill="#fff" fill-opacity="0.55"/>
<circle cx="582.1" cy="534.0" r="3.6" fill="#1010ff"/>
<circle cx="581.4" cy="533.3" r="1.1" fill="#fff" fill-opacity="0.55"/>
<circle cx="595.8" cy="533.1" r="3.6" fill="#1010ff"/>
<circle cx="595.1" cy="532.4" r="1.1" fill="#fff" fill-opacity="0.55"/>
<circle cx="609.5" cy="532.2" r="3.6" fill="#1010ff"/>
<circle cx="608.8" cy="531.5" r="1.1" fill="#fff" fill-opacity="0.55"/>
<circle cx="623.2" cy="530.8" r="3.6" fill="#1010ff"/>
<circle cx="622.5" cy="530.1" r="1.1" fill="#fff" fill-opacity="0.55"/>
<circle cx="637.0" cy="529.3" r="3.6" fill="#1010ff"/>
<circle cx="636.3" cy="528.6" r="1.1" fill="#fff" fill-opacity="0.55"/>
<circle cx="650.7" cy="527.9" r="3.6" fill="#1010ff"/>
<circle cx="650.0" cy="527.2" r="1.1" fill="#fff" fill-opacity="0.55"/>
<circle cx="664.4" cy="526.8" r="3.6" fill="#1010ff"/>
<circle cx="663.7" cy="526.1" r="1.1" fill="#fff" fill-opacity="0.55"/>
<circle cx="678.1" cy="525.6" r="3.6" fill="#1010ff"/>
<circle cx="677.4" cy="524.9" r="1.1" fill="#fff" fill-opacity="0.55"/>
<circle cx="685.7" cy="524.9" r="3.6" fill="#1010ff"/>
<circle cx="685.0" cy="524.2" r="1.1" fill="#fff" fill-opacity="0.55"/>
<circle cx="696.2" cy="522.6" r="3.6" fill="#1010ff"/>
<circle cx="695.5" cy="521.9" r="1.1" fill="#fff" fill-opacity="0.55"/>
<circle cx="710.1" cy="518.5" r="3.6" fill="#1010ff"/>
<circle cx="709.4" cy="517.8" r="1.1" fill="#fff" fill-opacity="0.55"/>
<circle cx="723.3" cy="514.4" r="3.6" fill="#1010ff"/>
<circle cx="722.6" cy="513.7" r="1.1" fill="#fff" fill-opacity="0.55"/>
<circle cx="738.6" cy="504.6" r="3.6" fill="#1010ff"/>
<circle cx="737.9" cy="503.9" r="1.1" fill="#fff" fill-opacity="0.55"/>
<circle cx="759.7" cy="404.6" r="3.6" fill="#1010ff"/>
<circle cx="759.0" cy="403.9" r="1.1" fill="#fff" fill-opacity="0.55"/>
<path d="M489.5 540.7 L498.8 539.8 L509.5 538.8 L523.2 537.5 L536.9 536.1 L552.0 534.7 L564.9 533.5 L578.0 532.3 L591.7 531.0 L605.4 529.8 L619.1 528.3 L632.8 526.7 L646.5 525.0 L660.3 522.8 L674.0 520.5 L687.7 517.4 L701.4 513.5 L713.7 508.1 L724.7 502.6 L740.3 488.2 L746.9 471.9 L752.1 457.6 L757.3 357.1" fill="none" stroke="#12a874" stroke-width="1.8" stroke-linejoin="round" />
<path d="M495.0 538.3 L505.1 537.3 L513.9 536.4 L527.6 535.1 L541.0 533.8 L555.0 532.5 L568.7 531.2 L582.1 530.0 L595.8 528.7 L609.5 527.5 L623.2 525.9 L637.0 524.3 L650.7 522.4 L664.4 520.1 L678.1 517.9 L691.8 514.6 L705.5 510.7 L717.8 505.5 L740.3 488.2 L746.9 471.9 L752.1 457.6 L757.3 357.1" fill="none" stroke="#12a874" stroke-width="1.8" stroke-linejoin="round" />
<circle cx="489.5" cy="540.7" r="3.6" fill="#12a874"/>
<circle cx="488.8" cy="540.0" r="1.1" fill="#fff" fill-opacity="0.55"/>
<circle cx="498.8" cy="539.8" r="3.6" fill="#12a874"/>
<circle cx="498.1" cy="539.1" r="1.1" fill="#fff" fill-opacity="0.55"/>
<circle cx="509.5" cy="538.8" r="3.6" fill="#12a874"/>
<circle cx="508.8" cy="538.1" r="1.1" fill="#fff" fill-opacity="0.55"/>
<circle cx="523.2" cy="537.5" r="3.6" fill="#12a874"/>
<circle cx="522.5" cy="536.8" r="1.1" fill="#fff" fill-opacity="0.55"/>
<circle cx="536.9" cy="536.1" r="3.6" fill="#12a874"/>
<circle cx="536.2" cy="535.4" r="1.1" fill="#fff" fill-opacity="0.55"/>
<circle cx="552.0" cy="534.7" r="3.6" fill="#12a874"/>
<circle cx="551.3" cy="534.0" r="1.1" fill="#fff" fill-opacity="0.55"/>
<circle cx="564.9" cy="533.5" r="3.6" fill="#12a874"/>
<circle cx="564.2" cy="532.8" r="1.1" fill="#fff" fill-opacity="0.55"/>
<circle cx="578.0" cy="532.3" r="3.6" fill="#12a874"/>
<circle cx="577.3" cy="531.6" r="1.1" fill="#fff" fill-opacity="0.55"/>
<circle cx="591.7" cy="531.0" r="3.6" fill="#12a874"/>
<circle cx="591.0" cy="530.3" r="1.1" fill="#fff" fill-opacity="0.55"/>
<circle cx="605.4" cy="529.8" r="3.6" fill="#12a874"/>
<circle cx="604.7" cy="529.1" r="1.1" fill="#fff" fill-opacity="0.55"/>
<circle cx="619.1" cy="528.3" r="3.6" fill="#12a874"/>
<circle cx="618.4" cy="527.6" r="1.1" fill="#fff" fill-opacity="0.55"/>
<circle cx="632.8" cy="526.7" r="3.6" fill="#12a874"/>
<circle cx="632.1" cy="526.0" r="1.1" fill="#fff" fill-opacity="0.55"/>
<circle cx="646.5" cy="525.0" r="3.6" fill="#12a874"/>
<circle cx="645.8" cy="524.3" r="1.1" fill="#fff" fill-opacity="0.55"/>
<circle cx="660.3" cy="522.8" r="3.6" fill="#12a874"/>
<circle cx="659.6" cy="522.1" r="1.1" fill="#fff" fill-opacity="0.55"/>
<circle cx="674.0" cy="520.5" r="3.6" fill="#12a874"/>
<circle cx="673.3" cy="519.8" r="1.1" fill="#fff" fill-opacity="0.55"/>
<circle cx="687.7" cy="517.4" r="3.6" fill="#12a874"/>
<circle cx="687.0" cy="516.7" r="1.1" fill="#fff" fill-opacity="0.55"/>
<circle cx="701.4" cy="513.5" r="3.6" fill="#12a874"/>
<circle cx="700.7" cy="512.8" r="1.1" fill="#fff" fill-opacity="0.55"/>
<circle cx="713.7" cy="508.1" r="3.6" fill="#12a874"/>
<circle cx="713.0" cy="507.4" r="1.1" fill="#fff" fill-opacity="0.55"/>
<circle cx="724.7" cy="502.6" r="3.6" fill="#12a874"/>
<circle cx="724.0" cy="501.9" r="1.1" fill="#fff" fill-opacity="0.55"/>
<circle cx="740.3" cy="488.2" r="3.6" fill="#12a874"/>
<circle cx="739.6" cy="487.5" r="1.1" fill="#fff" fill-opacity="0.55"/>
<circle cx="746.9" cy="471.9" r="3.6" fill="#12a874"/>
<circle cx="746.2" cy="471.2" r="1.1" fill="#fff" fill-opacity="0.55"/>
<circle cx="752.1" cy="457.6" r="3.6" fill="#12a874"/>
<circle cx="751.4" cy="456.9" r="1.1" fill="#fff" fill-opacity="0.55"/>
<circle cx="757.3" cy="357.1" r="3.6" fill="#12a874"/>
<circle cx="756.6" cy="356.4" r="1.1" fill="#fff" fill-opacity="0.55"/>
<circle cx="495.0" cy="538.3" r="3.6" fill="#12a874"/>
<circle cx="494.3" cy="537.6" r="1.1" fill="#fff" fill-opacity="0.55"/>
<circle cx="505.1" cy="537.3" r="3.6" fill="#12a874"/>
<circle cx="504.4" cy="536.6" r="1.1" fill="#fff" fill-opacity="0.55"/>
<circle cx="513.9" cy="536.4" r="3.6" fill="#12a874"/>
<circle cx="513.2" cy="535.7" r="1.1" fill="#fff" fill-opacity="0.55"/>
<circle cx="527.6" cy="535.1" r="3.6" fill="#12a874"/>
<circle cx="526.9" cy="534.4" r="1.1" fill="#fff" fill-opacity="0.55"/>
<circle cx="541.0" cy="533.8" r="3.6" fill="#12a874"/>
<circle cx="540.3" cy="533.1" r="1.1" fill="#fff" fill-opacity="0.55"/>
<circle cx="555.0" cy="532.5" r="3.6" fill="#12a874"/>
<circle cx="554.3" cy="531.8" r="1.1" fill="#fff" fill-opacity="0.55"/>
<circle cx="568.7" cy="531.2" r="3.6" fill="#12a874"/>
<circle cx="568.0" cy="530.5" r="1.1" fill="#fff" fill-opacity="0.55"/>
<circle cx="582.1" cy="530.0" r="3.6" fill="#12a874"/>
<circle cx="581.4" cy="529.3" r="1.1" fill="#fff" fill-opacity="0.55"/>
<circle cx="595.8" cy="528.7" r="3.6" fill="#12a874"/>
<circle cx="595.1" cy="528.0" r="1.1" fill="#fff" fill-opacity="0.55"/>
<circle cx="609.5" cy="527.5" r="3.6" fill="#12a874"/>
<circle cx="608.8" cy="526.8" r="1.1" fill="#fff" fill-opacity="0.55"/>
<circle cx="623.2" cy="525.9" r="3.6" fill="#12a874"/>
<circle cx="622.5" cy="525.2" r="1.1" fill="#fff" fill-opacity="0.55"/>
<circle cx="637.0" cy="524.3" r="3.6" fill="#12a874"/>
<circle cx="636.3" cy="523.6" r="1.1" fill="#fff" fill-opacity="0.55"/>
<circle cx="650.7" cy="522.4" r="3.6" fill="#12a874"/>
<circle cx="650.0" cy="521.7" r="1.1" fill="#fff" fill-opacity="0.55"/>
<circle cx="664.4" cy="520.1" r="3.6" fill="#12a874"/>
<circle cx="663.7" cy="519.4" r="1.1" fill="#fff" fill-opacity="0.55"/>
<circle cx="678.1" cy="517.9" r="3.6" fill="#12a874"/>
<circle cx="677.4" cy="517.2" r="1.1" fill="#fff" fill-opacity="0.55"/>
<circle cx="691.8" cy="514.6" r="3.6" fill="#12a874"/>
<circle cx="691.1" cy="513.9" r="1.1" fill="#fff" fill-opacity="0.55"/>
<circle cx="705.5" cy="510.7" r="3.6" fill="#12a874"/>
<circle cx="704.8" cy="510.0" r="1.1" fill="#fff" fill-opacity="0.55"/>
<circle cx="717.8" cy="505.5" r="3.6" fill="#12a874"/>
<circle cx="717.1" cy="504.8" r="1.1" fill="#fff" fill-opacity="0.55"/>
<circle cx="740.3" cy="488.2" r="3.6" fill="#12a874"/>
<circle cx="739.6" cy="487.5" r="1.1" fill="#fff" fill-opacity="0.55"/>
<circle cx="746.9" cy="471.9" r="3.6" fill="#12a874"/>
<circle cx="746.2" cy="471.2" r="1.1" fill="#fff" fill-opacity="0.55"/>
<circle cx="752.1" cy="457.6" r="3.6" fill="#12a874"/>
<circle cx="751.4" cy="456.9" r="1.1" fill="#fff" fill-opacity="0.55"/>
<circle cx="757.3" cy="357.1" r="3.6" fill="#12a874"/>
<circle cx="756.6" cy="356.4" r="1.1" fill="#fff" fill-opacity="0.55"/>
<path d="M489.5 541.8 L498.8 540.9 L509.5 539.9 L523.2 538.5 L536.9 537.2 L552.0 535.8 L564.9 534.6 L578.0 533.3 L591.7 532.1 L605.4 530.9 L619.1 529.4 L632.8 527.8 L646.5 526.1 L660.3 523.8 L674.0 521.6 L687.7 518.5 L701.4 514.6 L713.7 509.2 L722.5 504.6 L732.1 496.4 L746.0 467.0 L751.0 446.8 L757.3 354.6" fill="none" stroke="#ff1010" stroke-width="2.4" stroke-linejoin="round" />
<path d="M495.0 539.3 L505.1 538.3 L513.9 537.5 L527.6 536.2 L541.0 534.9 L555.0 533.6 L568.7 532.3 L582.1 531.0 L595.8 529.8 L609.5 528.6 L623.2 527.0 L637.0 525.3 L650.7 523.5 L664.4 521.2 L678.1 519.0 L691.8 515.7 L705.5 511.8 L717.8 506.5 L732.1 496.4 L746.0 467.0 L751.0 446.8 L757.3 354.6" fill="none" stroke="#ff1010" stroke-width="2.4" stroke-linejoin="round" />
<circle cx="489.5" cy="541.8" r="3.6" fill="#ff1010"/>
<circle cx="488.8" cy="541.1" r="1.1" fill="#fff" fill-opacity="0.55"/>
<circle cx="498.8" cy="540.9" r="3.6" fill="#ff1010"/>
<circle cx="498.1" cy="540.2" r="1.1" fill="#fff" fill-opacity="0.55"/>
<circle cx="509.5" cy="539.9" r="3.6" fill="#ff1010"/>
<circle cx="508.8" cy="539.2" r="1.1" fill="#fff" fill-opacity="0.55"/>
<circle cx="523.2" cy="538.5" r="3.6" fill="#ff1010"/>
<circle cx="522.5" cy="537.8" r="1.1" fill="#fff" fill-opacity="0.55"/>
<circle cx="536.9" cy="537.2" r="3.6" fill="#ff1010"/>
<circle cx="536.2" cy="536.5" r="1.1" fill="#fff" fill-opacity="0.55"/>
<circle cx="552.0" cy="535.8" r="3.6" fill="#ff1010"/>
<circle cx="551.3" cy="535.1" r="1.1" fill="#fff" fill-opacity="0.55"/>
<circle cx="564.9" cy="534.6" r="3.6" fill="#ff1010"/>
<circle cx="564.2" cy="533.9" r="1.1" fill="#fff" fill-opacity="0.55"/>
<circle cx="578.0" cy="533.3" r="3.6" fill="#ff1010"/>
<circle cx="577.3" cy="532.6" r="1.1" fill="#fff" fill-opacity="0.55"/>
<circle cx="591.7" cy="532.1" r="3.6" fill="#ff1010"/>
<circle cx="591.0" cy="531.4" r="1.1" fill="#fff" fill-opacity="0.55"/>
<circle cx="605.4" cy="530.9" r="3.6" fill="#ff1010"/>
<circle cx="604.7" cy="530.2" r="1.1" fill="#fff" fill-opacity="0.55"/>
<circle cx="619.1" cy="529.4" r="3.6" fill="#ff1010"/>
<circle cx="618.4" cy="528.7" r="1.1" fill="#fff" fill-opacity="0.55"/>
<circle cx="632.8" cy="527.8" r="3.6" fill="#ff1010"/>
<circle cx="632.1" cy="527.1" r="1.1" fill="#fff" fill-opacity="0.55"/>
<circle cx="646.5" cy="526.1" r="3.6" fill="#ff1010"/>
<circle cx="645.8" cy="525.4" r="1.1" fill="#fff" fill-opacity="0.55"/>
<circle cx="660.3" cy="523.8" r="3.6" fill="#ff1010"/>
<circle cx="659.6" cy="523.1" r="1.1" fill="#fff" fill-opacity="0.55"/>
<circle cx="674.0" cy="521.6" r="3.6" fill="#ff1010"/>
<circle cx="673.3" cy="520.9" r="1.1" fill="#fff" fill-opacity="0.55"/>
<circle cx="687.7" cy="518.5" r="3.6" fill="#ff1010"/>
<circle cx="687.0" cy="517.8" r="1.1" fill="#fff" fill-opacity="0.55"/>
<circle cx="701.4" cy="514.6" r="3.6" fill="#ff1010"/>
<circle cx="700.7" cy="513.9" r="1.1" fill="#fff" fill-opacity="0.55"/>
<circle cx="713.7" cy="509.2" r="3.6" fill="#ff1010"/>
<circle cx="713.0" cy="508.5" r="1.1" fill="#fff" fill-opacity="0.55"/>
<circle cx="722.5" cy="504.6" r="3.6" fill="#ff1010"/>
<circle cx="721.8" cy="503.9" r="1.1" fill="#fff" fill-opacity="0.55"/>
<circle cx="732.1" cy="496.4" r="3.6" fill="#ff1010"/>
<circle cx="731.4" cy="495.7" r="1.1" fill="#fff" fill-opacity="0.55"/>
<circle cx="746.0" cy="467.0" r="3.6" fill="#ff1010"/>
<circle cx="745.3" cy="466.3" r="1.1" fill="#fff" fill-opacity="0.55"/>
<circle cx="751.0" cy="446.8" r="3.6" fill="#ff1010"/>
<circle cx="750.3" cy="446.1" r="1.1" fill="#fff" fill-opacity="0.55"/>
<circle cx="757.3" cy="354.6" r="3.6" fill="#ff1010"/>
<circle cx="756.6" cy="353.9" r="1.1" fill="#fff" fill-opacity="0.55"/>
<circle cx="495.0" cy="539.3" r="3.6" fill="#ff1010"/>
<circle cx="494.3" cy="538.6" r="1.1" fill="#fff" fill-opacity="0.55"/>
<circle cx="505.1" cy="538.3" r="3.6" fill="#ff1010"/>
<circle cx="504.4" cy="537.6" r="1.1" fill="#fff" fill-opacity="0.55"/>
<circle cx="513.9" cy="537.5" r="3.6" fill="#ff1010"/>
<circle cx="513.2" cy="536.8" r="1.1" fill="#fff" fill-opacity="0.55"/>
<circle cx="527.6" cy="536.2" r="3.6" fill="#ff1010"/>
<circle cx="526.9" cy="535.5" r="1.1" fill="#fff" fill-opacity="0.55"/>
<circle cx="541.0" cy="534.9" r="3.6" fill="#ff1010"/>
<circle cx="540.3" cy="534.2" r="1.1" fill="#fff" fill-opacity="0.55"/>
<circle cx="555.0" cy="533.6" r="3.6" fill="#ff1010"/>
<circle cx="554.3" cy="532.9" r="1.1" fill="#fff" fill-opacity="0.55"/>
<circle cx="568.7" cy="532.3" r="3.6" fill="#ff1010"/>
<circle cx="568.0" cy="531.6" r="1.1" fill="#fff" fill-opacity="0.55"/>
<circle cx="582.1" cy="531.0" r="3.6" fill="#ff1010"/>
<circle cx="581.4" cy="530.3" r="1.1" fill="#fff" fill-opacity="0.55"/>
<circle cx="595.8" cy="529.8" r="3.6" fill="#ff1010"/>
<circle cx="595.1" cy="529.1" r="1.1" fill="#fff" fill-opacity="0.55"/>
<circle cx="609.5" cy="528.6" r="3.6" fill="#ff1010"/>
<circle cx="608.8" cy="527.9" r="1.1" fill="#fff" fill-opacity="0.55"/>
<circle cx="623.2" cy="527.0" r="3.6" fill="#ff1010"/>
<circle cx="622.5" cy="526.3" r="1.1" fill="#fff" fill-opacity="0.55"/>
<circle cx="637.0" cy="525.3" r="3.6" fill="#ff1010"/>
<circle cx="636.3" cy="524.6" r="1.1" fill="#fff" fill-opacity="0.55"/>
<circle cx="650.7" cy="523.5" r="3.6" fill="#ff1010"/>
<circle cx="650.0" cy="522.8" r="1.1" fill="#fff" fill-opacity="0.55"/>
<circle cx="664.4" cy="521.2" r="3.6" fill="#ff1010"/>
<circle cx="663.7" cy="520.5" r="1.1" fill="#fff" fill-opacity="0.55"/>
<circle cx="678.1" cy="519.0" r="3.6" fill="#ff1010"/>
<circle cx="677.4" cy="518.3" r="1.1" fill="#fff" fill-opacity="0.55"/>
<circle cx="691.8" cy="515.7" r="3.6" fill="#ff1010"/>
<circle cx="691.1" cy="515.0" r="1.1" fill="#fff" fill-opacity="0.55"/>
<circle cx="705.5" cy="511.8" r="3.6" fill="#ff1010"/>
<circle cx="704.8" cy="511.1" r="1.1" fill="#fff" fill-opacity="0.55"/>
<circle cx="717.8" cy="506.5" r="3.6" fill="#ff1010"/>
<circle cx="717.1" cy="505.8" r="1.1" fill="#fff" fill-opacity="0.55"/>
<circle cx="732.1" cy="496.4" r="3.6" fill="#ff1010"/>
<circle cx="731.4" cy="495.7" r="1.1" fill="#fff" fill-opacity="0.55"/>
<circle cx="746.0" cy="467.0" r="3.6" fill="#ff1010"/>
<circle cx="745.3" cy="466.3" r="1.1" fill="#fff" fill-opacity="0.55"/>
<circle cx="751.0" cy="446.8" r="3.6" fill="#ff1010"/>
<circle cx="750.3" cy="446.1" r="1.1" fill="#fff" fill-opacity="0.55"/>
<circle cx="757.3" cy="354.6" r="3.6" fill="#ff1010"/>
<circle cx="756.6" cy="353.9" r="1.1" fill="#fff" fill-opacity="0.55"/>
</g>
<rect x="472.5" y="337.4" width="301.5" height="225.30000000000007" fill="none" stroke="#000" stroke-width="2.6"/>
<line x1="486.2" y1="562.7" x2="486.2" y2="558.2" stroke="#000" stroke-width="1.6"/>
<text x="486.2" y="577.5" font-size="12.5" text-anchor="middle" font-weight="normal" fill="#2a2a2a" font-family="Liberation Sans, sans-serif" >0.0</text>
<line x1="513.6" y1="562.7" x2="513.6" y2="560.1" stroke="#000" stroke-width="1.6"/>
<line x1="541.0" y1="562.7" x2="541.0" y2="558.2" stroke="#000" stroke-width="1.6"/>
<text x="541.0" y="577.5" font-size="12.5" text-anchor="middle" font-weight="normal" fill="#2a2a2a" font-family="Liberation Sans, sans-serif" >0.2</text>
<line x1="568.4" y1="562.7" x2="568.4" y2="560.1" stroke="#000" stroke-width="1.6"/>
<line x1="595.8" y1="562.7" x2="595.8" y2="558.2" stroke="#000" stroke-width="1.6"/>
<text x="595.8" y="577.5" font-size="12.5" text-anchor="middle" font-weight="normal" fill="#2a2a2a" font-family="Liberation Sans, sans-serif" >0.4</text>
<line x1="623.2" y1="562.7" x2="623.2" y2="560.1" stroke="#000" stroke-width="1.6"/>
<line x1="650.7" y1="562.7" x2="650.7" y2="558.2" stroke="#000" stroke-width="1.6"/>
<text x="650.7" y="577.5" font-size="12.5" text-anchor="middle" font-weight="normal" fill="#2a2a2a" font-family="Liberation Sans, sans-serif" >0.6</text>
<line x1="678.1" y1="562.7" x2="678.1" y2="560.1" stroke="#000" stroke-width="1.6"/>
<line x1="705.5" y1="562.7" x2="705.5" y2="558.2" stroke="#000" stroke-width="1.6"/>
<text x="705.5" y="577.5" font-size="12.5" text-anchor="middle" font-weight="normal" fill="#2a2a2a" font-family="Liberation Sans, sans-serif" >0.8</text>
<line x1="732.9" y1="562.7" x2="732.9" y2="560.1" stroke="#000" stroke-width="1.6"/>
<line x1="760.3" y1="562.7" x2="760.3" y2="558.2" stroke="#000" stroke-width="1.6"/>
<text x="760.3" y="577.5" font-size="12.5" text-anchor="middle" font-weight="normal" fill="#2a2a2a" font-family="Liberation Sans, sans-serif" >1.0</text>
<line x1="472.5" y1="552.0" x2="477.0" y2="552.0" stroke="#000" stroke-width="1.6"/>
<text x="466.5" y="555.8" font-size="12.5" text-anchor="end" font-weight="normal" fill="#2a2a2a" font-family="Liberation Sans, sans-serif" >0</text>
<line x1="472.5" y1="530.5" x2="475.1" y2="530.5" stroke="#000" stroke-width="1.6"/>
<line x1="472.5" y1="509.1" x2="477.0" y2="509.1" stroke="#000" stroke-width="1.6"/>
<text x="466.5" y="512.9" font-size="12.5" text-anchor="end" font-weight="normal" fill="#2a2a2a" font-family="Liberation Sans, sans-serif" >2</text>
<line x1="472.5" y1="487.6" x2="475.1" y2="487.6" stroke="#000" stroke-width="1.6"/>
<line x1="472.5" y1="466.1" x2="477.0" y2="466.1" stroke="#000" stroke-width="1.6"/>
<text x="466.5" y="469.9" font-size="12.5" text-anchor="end" font-weight="normal" fill="#2a2a2a" font-family="Liberation Sans, sans-serif" >4</text>
<line x1="472.5" y1="444.7" x2="475.1" y2="444.7" stroke="#000" stroke-width="1.6"/>
<line x1="472.5" y1="423.2" x2="477.0" y2="423.2" stroke="#000" stroke-width="1.6"/>
<text x="466.5" y="427.0" font-size="12.5" text-anchor="end" font-weight="normal" fill="#2a2a2a" font-family="Liberation Sans, sans-serif" >6</text>
<line x1="472.5" y1="401.8" x2="475.1" y2="401.8" stroke="#000" stroke-width="1.6"/>
<line x1="472.5" y1="380.3" x2="477.0" y2="380.3" stroke="#000" stroke-width="1.6"/>
<text x="466.5" y="384.1" font-size="12.5" text-anchor="end" font-weight="normal" fill="#2a2a2a" font-family="Liberation Sans, sans-serif" >8</text>
<line x1="472.5" y1="358.9" x2="475.1" y2="358.9" stroke="#000" stroke-width="1.6"/>
<line x1="472.5" y1="337.4" x2="477.0" y2="337.4" stroke="#000" stroke-width="1.6"/>
<text x="466.5" y="341.2" font-size="12.5" text-anchor="end" font-weight="normal" fill="#2a2a2a" font-family="Liberation Sans, sans-serif" >10</text>
<line x1="609.6" y1="362.0" x2="641" y2="362.0" stroke="#1010ff" stroke-width="1.6"/>
<circle cx="625.4" cy="362.0" r="3.3" fill="#1010ff"/>
<text x="644.6" y="366.6" font-size="13.6" text-anchor="start" font-weight="normal" fill="#2a2a2a" font-family="Liberation Sans, sans-serif" >SiO<tspan font-size="8.8" dy="5">x</tspan></text>
<line x1="609.6" y1="382.8" x2="641" y2="382.8" stroke="#12a874" stroke-width="1.6"/>
<circle cx="625.4" cy="382.8" r="3.3" fill="#12a874"/>
<text x="644.6" y="387.4" font-size="13.6" text-anchor="start" font-weight="normal" fill="#2a2a2a" font-family="Liberation Sans, sans-serif" >SiO<tspan font-size="8.8" dy="5">x</tspan><tspan dy="-5">@TiO</tspan><tspan font-size="8.8" dy="5">2</tspan></text>
<line x1="609.6" y1="403.6" x2="641" y2="403.6" stroke="#ff1010" stroke-width="1.6"/>
<circle cx="625.4" cy="403.6" r="3.3" fill="#ff1010"/>
<text x="644.6" y="408.2" font-size="13.6" text-anchor="start" font-weight="normal" fill="#2a2a2a" font-family="Liberation Sans, sans-serif" >SiO<tspan font-size="8.8" dy="5">x</tspan><tspan dy="-5">@TiO</tspan><tspan font-size="8.8" dy="5">2</tspan><tspan dy="-5">@C</tspan></text>
<text x="499.8" y="449.5" font-size="11.8" text-anchor="start" font-weight="normal" fill="#2a2a2a" font-family="Liberation Sans, sans-serif" >S<tspan font-size="7.5" dy="3.8">BET</tspan><tspan dy="-3.8">:</tspan></text>
<text x="499.8" y="470.3" font-size="11.8" text-anchor="start" font-weight="normal" fill="#2a2a2a" font-family="Liberation Sans, sans-serif" >SiO<tspan font-size="7.5" dy="3.8">x</tspan><tspan dy="-3.8">:2.34m</tspan><tspan font-size="7.5" dy="-4">2</tspan><tspan dy="4">/g</tspan></text>
<text x="499.8" y="490.9" font-size="11.8" text-anchor="start" font-weight="normal" fill="#2a2a2a" font-family="Liberation Sans, sans-serif" >SiO<tspan font-size="7.5" dy="3.8">x</tspan><tspan dy="-3.8">@TiO</tspan><tspan font-size="7.5" dy="3.8">2</tspan><tspan dy="-3.8">:2.87m</tspan><tspan font-size="7.5" dy="-4">2</tspan><tspan dy="4">/g</tspan></text>
<text x="499.8" y="511.5" font-size="11.8" text-anchor="start" font-weight="normal" fill="#2a2a2a" font-family="Liberation Sans, sans-serif" >SiO<tspan font-size="7.5" dy="3.8">x</tspan><tspan dy="-3.8">@TiO</tspan><tspan font-size="7.5" dy="3.8">2</tspan><tspan dy="-3.8">@C:2.98m</tspan><tspan font-size="7.5" dy="-4">2</tspan><tspan dy="4">/g</tspan></text>
<text x="402.4" y="330.0" font-size="34" text-anchor="start" font-weight="normal" fill="#000" font-family="Liberation Sans, sans-serif" stroke="#000" stroke-width="0.5">d</text>
<text x="446.0" y="451.4" font-size="17" text-anchor="middle" font-weight="bold" fill="#111" font-family="Liberation Sans, sans-serif" transform="rotate(-90 446 451.4)" letter-spacing="0.56">Volume Absorbed (cm<tspan font-size="10" dy="-7">3</tspan><tspan dy="7"> g</tspan><tspan font-size="10" dy="-7">-1</tspan><tspan dy="7">)</tspan></text>
<text x="632.5" y="600.7" font-size="17" text-anchor="middle" font-weight="bold" fill="#111" font-family="Liberation Sans, sans-serif" letter-spacing="0.25">Relative pressure (P/P<tspan font-size="10" dy="4">0</tspan><tspan dy="-4">)</tspan></text>
</svg>
</body></html>
